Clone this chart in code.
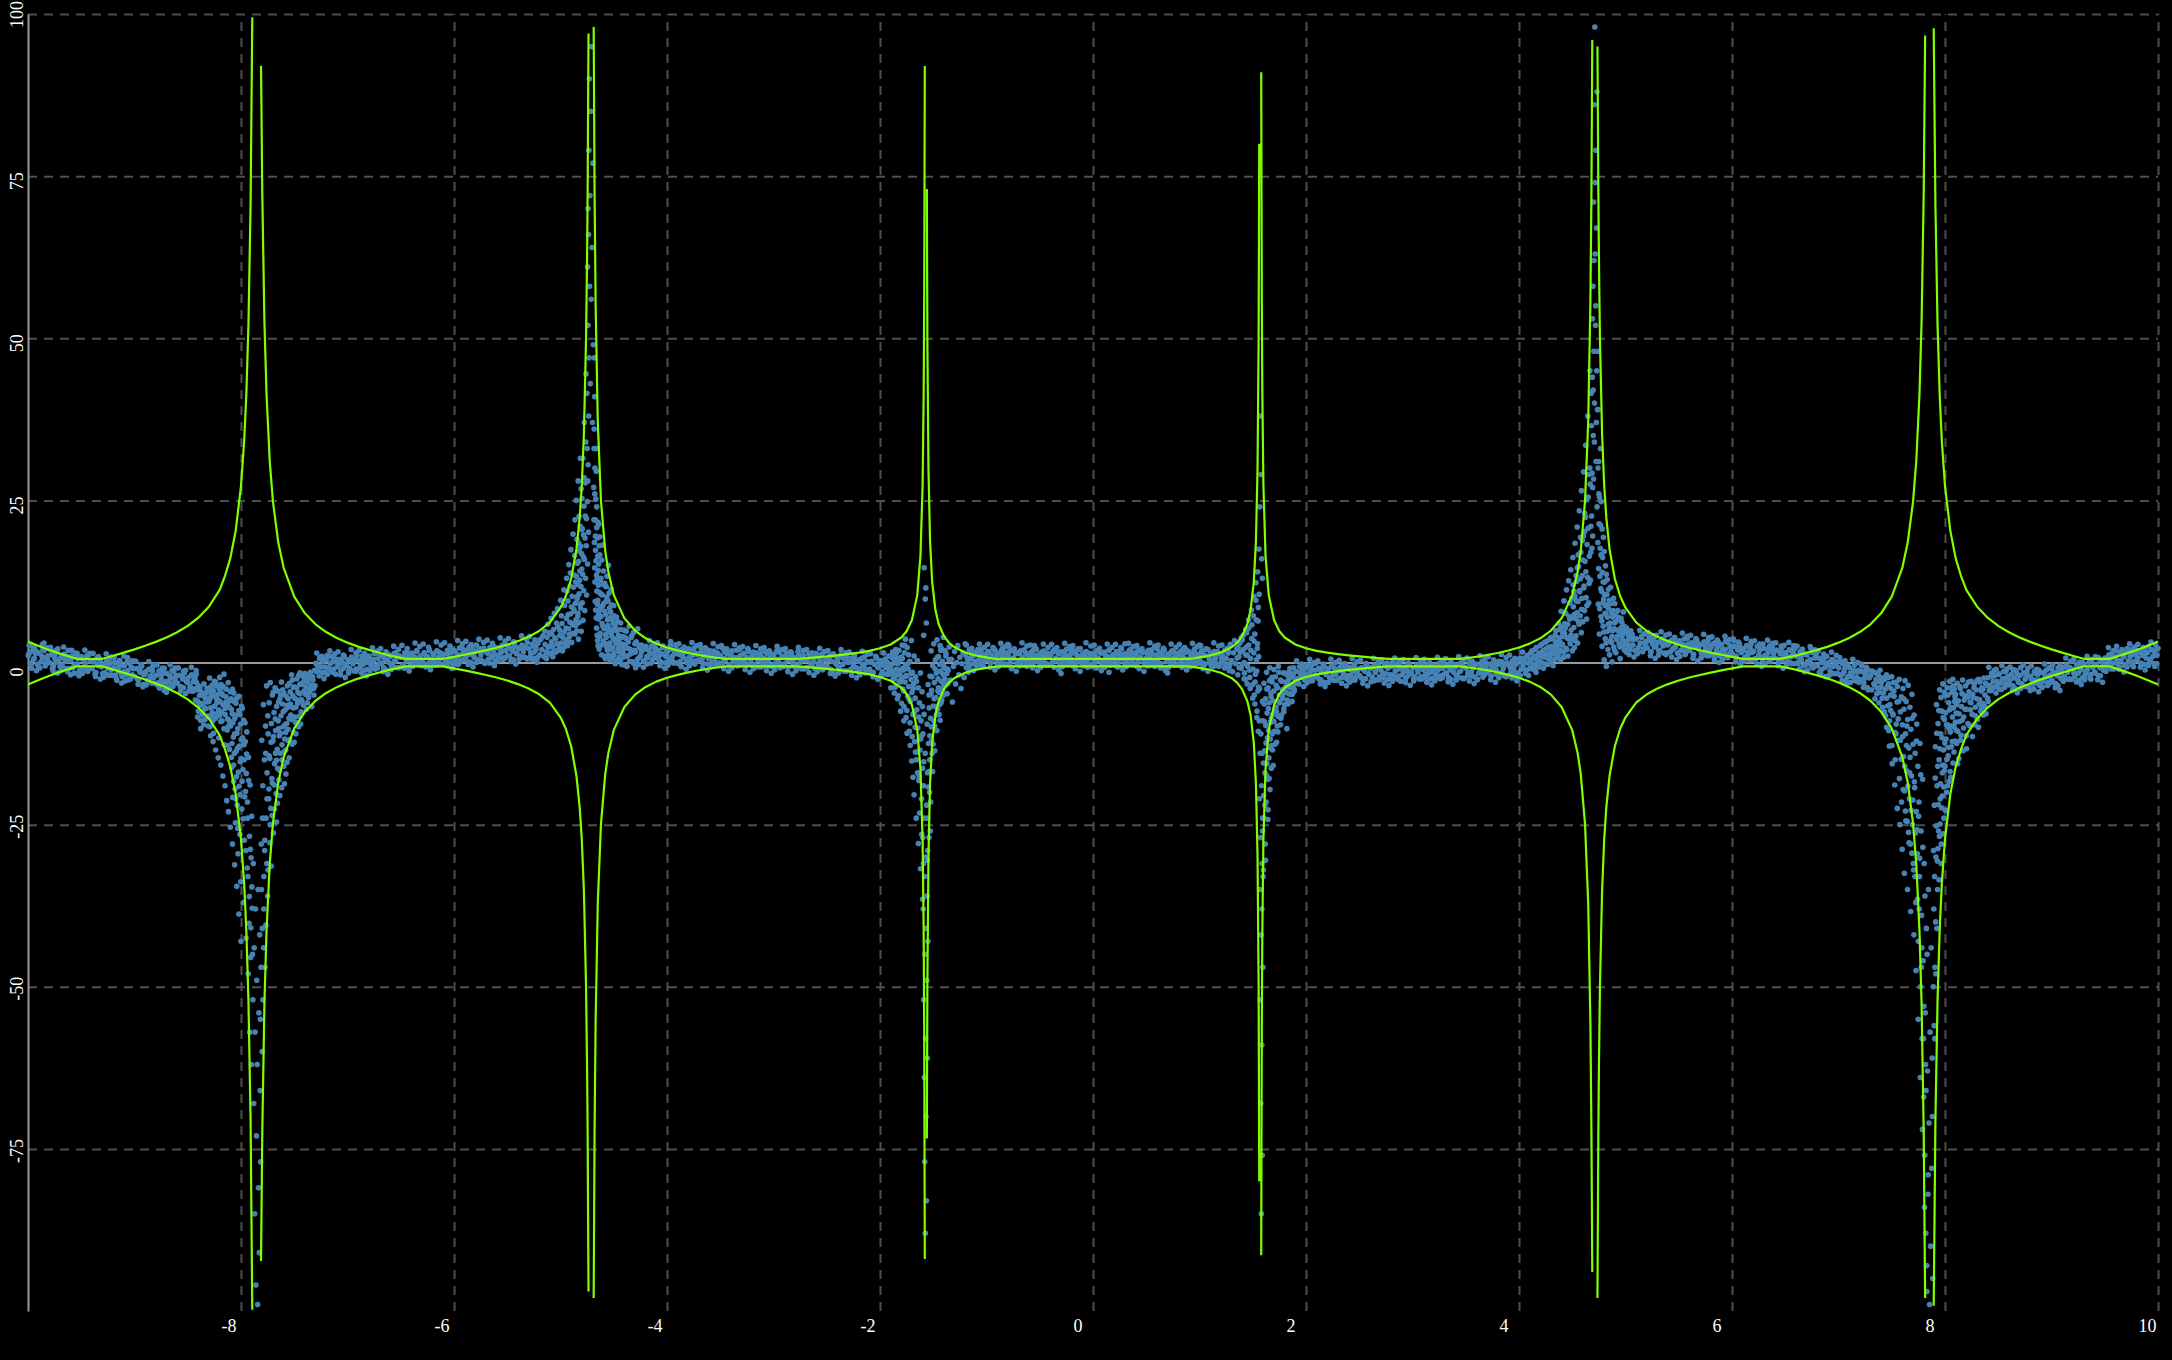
<!DOCTYPE html>
<html>
<head>
<meta charset="utf-8">
<script src="https://cdn.jsdelivr.net/npm/d3@7"></script>
<style>
    html, body { margin: 0; padding: 0; background: #000; }
    #chart { width: 2172px; height: 1360px; }
    .grid line { stroke: #4f4f4f; stroke-width: 2; stroke-dasharray: 9,7; }
    .grid .domain { display: none; }
    .tick-label { fill: #fff; font-family: "Liberation Serif", "Times New Roman", serif; font-size: 18px; }
</style>
</head>
<body>
<div id="chart"></div>
<script>

// tick labels
const xTicks = [-8, -6, -4, -2, 0, 2, 4, 6, 8, 10];
const yTicks = [-75, -50, -25, 0, 25, 50, 75, 100];

// green band: upper and lower curve, null = break at a pole
const curveX = [
    -10,-9.9,-9.8,-9.7,-9.6,-9.55,-9.54,-9.31,-9.3,-9.2,-9.1,-9.0,-8.9,-8.8,-8.7,-8.6,-8.5,-8.4,-8.3,-8.2,-8.15,-8.1,-8.05,-8.0,-7.97,-7.95,-7.93,-7.91,-7.894,
    -7.854,
    -7.812,-7.80,-7.78,-7.76,-7.73,-7.70,-7.65,-7.6,-7.5,-7.4,-7.3,-7.2,-7.1,-7.0,-6.9,-6.8,-6.7,-6.6,-6.5,-6.45,-6.105,-6.0,-5.9,-5.8,-5.7,-5.6,-5.5,-5.4,-5.3,-5.2,-5.1,-5.0,-4.95,-4.9,-4.85,-4.82,-4.80,-4.78,-4.76,-4.75,-4.745,-4.737,
    -4.712,
    -4.6885,-4.68,-4.67,-4.65,-4.62,-4.58,-4.55,-4.5,-4.4,-4.3,-4.2,-4.1,-4.0,-3.9,-3.8,-3.7,-3.6,-3.5,-3.45,-2.78,-2.7,-2.6,-2.5,-2.4,-2.3,-2.2,-2.1,-2.0,-1.9,-1.8,-1.75,-1.7,-1.65,-1.62,-1.60,-1.59,-1.585,-1.5793,
    -1.571,
    -1.5601,-1.555,-1.545,-1.53,-1.51,-1.48,-1.45,-1.4,-1.35,-1.3,-1.2,-1.1,-1.0,-0.95,-0.9,-0.88,0.88,0.9,0.95,1.0,1.1,1.2,1.3,1.35,1.4,1.45,1.48,1.51,1.53,1.545,1.555,1.561,
    1.571,
    1.5794,1.585,1.59,1.60,1.62,1.65,1.7,1.75,1.8,1.9,2.0,2.1,2.2,2.3,2.4,2.5,2.6,2.7,2.78,3.45,3.5,3.6,3.7,3.8,3.9,4.0,4.1,4.2,4.3,4.4,4.5,4.55,4.58,4.62,4.65,4.67,4.68,4.6882,
    4.712,
    4.7365,4.745,4.75,4.76,4.78,4.80,4.82,4.85,4.9,4.95,5.0,5.1,5.2,5.3,5.4,5.5,5.6,5.7,5.8,5.9,6.0,6.105,6.45,6.5,6.6,6.7,6.8,6.9,7.0,7.1,7.2,7.3,7.4,7.5,7.6,7.65,7.70,7.73,7.76,7.78,7.80,7.8135,
    7.854,
    7.894,7.91,7.93,7.95,7.97,8.0,8.05,8.1,8.15,8.2,8.3,8.4,8.5,8.6,8.7,8.8,8.9,9.0,9.1,9.2,9.3,9.31,9.54,9.55,9.6,9.7,9.8,9.9,10
];

const upperY = [
    3.24,2.55,1.93,1.37,0.85,0.60,0.55,0.55,0.58,1.05,1.53,2.03,2.58,3.18,3.85,4.66,5.64,6.91,8.65,11.19,13.37,16.1,20.3,27.2,34.2,41.3,52.1,70.6,99.5,
    null,
    92,72.2,52.5,41.2,31.0,24.8,18.5,14.64,10.15,7.58,5.89,4.69,3.79,3.06,2.45,1.94,1.50,1.06,0.71,0.55,0.55,0.87,1.19,1.52,1.89,2.28,2.74,3.29,3.97,4.86,6.19,8.45,10.22,12.91,17.51,22.3,27.3,35.3,50.0,63.1,72.7,97,
    null,
    98,72.2,55.1,37.2,24.9,17.2,13.9,10.43,6.81,4.92,3.73,2.91,2.31,1.85,1.47,1.15,0.89,0.66,0.55,0.55,0.64,0.78,0.93,1.10,1.29,1.51,1.80,2.19,2.78,3.86,4.83,6.54,10.39,16.45,27.4,41.4,55.8,92,
    null,
    73,49.2,29.9,18.7,12.4,8.13,5.97,4.06,3.01,2.34,1.54,1.08,0.78,0.66,0.57,0.55,0.55,0.57,0.66,0.78,1.08,1.54,2.34,3.01,4.06,5.97,8.13,12.4,18.7,29.9,49.2,80,
    null,
    91,55.8,41.4,27.4,16.45,10.39,6.54,4.83,3.86,2.78,2.19,1.80,1.51,1.29,1.10,0.93,0.78,0.64,0.55,0.55,0.66,0.89,1.15,1.47,1.85,2.31,2.91,3.73,4.92,6.81,10.43,13.9,17.2,24.9,37.2,55.1,72.2,96,
    null,
    95,72.7,63.1,50.0,35.3,27.3,22.3,17.51,12.91,10.22,8.45,6.19,4.86,3.97,3.29,2.74,2.28,1.89,1.52,1.19,0.87,0.55,0.55,0.71,1.06,1.50,1.94,2.45,3.06,3.79,4.69,5.89,7.58,10.15,14.64,18.5,24.8,31.0,41.2,52.5,72.2,96.7,
    null,
    97.8,70.6,52.1,41.3,34.2,27.2,20.3,16.1,13.37,11.19,8.65,6.91,5.64,4.66,3.85,3.18,2.58,2.03,1.53,1.05,0.58,0.55,0.55,0.60,0.85,1.37,1.93,2.55,3.24
];

const lowerY = [
    -3.4,-2.7,-2.05,-1.45,-0.9,-0.62,-0.58,-0.58,-0.62,-1.1,-1.58,-2.08,-2.63,-3.23,-3.9,-4.7,-5.68,-6.95,-8.7,-11.2,-13.4,-16.1,-20.3,-27.2,-34.2,-41.3,-52.1,-70.6,-99.8,
    null,
    -92.3,-72.2,-52.5,-41.2,-31.0,-24.8,-18.5,-14.64,-10.15,-7.6,-5.9,-4.7,-3.8,-3.08,-2.48,-1.98,-1.54,-1.1,-0.75,-0.6,-0.6,-0.9,-1.22,-1.55,-1.92,-2.32,-2.78,-3.33,-4.0,-4.9,-6.2,-8.45,-10.22,-12.91,-17.51,-22.3,-27.3,-35.3,-50.0,-63.1,-72.7,-97,
    null,
    -98,-72.2,-55.1,-37.2,-24.9,-17.2,-13.9,-10.43,-6.85,-4.95,-3.77,-2.95,-2.35,-1.9,-1.52,-1.2,-0.93,-0.7,-0.6,-0.6,-0.68,-0.82,-0.97,-1.14,-1.33,-1.55,-1.84,-2.23,-2.82,-3.9,-4.85,-6.56,-10.4,-16.45,-27.4,-41.4,-55.8,-92,
    null,
    -73.4,-49.2,-29.9,-18.7,-12.4,-8.15,-6.0,-4.1,-3.05,-2.38,-1.58,-1.12,-0.82,-0.7,-0.62,-0.6,-0.6,-0.62,-0.7,-0.82,-1.12,-1.58,-2.38,-3.05,-4.1,-6.0,-8.15,-12.4,-18.7,-29.9,-49.2,-80,
    null,
    -91.4,-55.8,-41.4,-27.4,-16.45,-10.4,-6.56,-4.85,-3.9,-2.82,-2.23,-1.84,-1.55,-1.33,-1.14,-0.97,-0.82,-0.68,-0.6,-0.6,-0.7,-0.93,-1.2,-1.52,-1.9,-2.35,-2.95,-3.77,-4.95,-6.85,-10.43,-13.9,-17.2,-24.9,-37.2,-55.1,-72.2,-94,
    null,
    -98,-72.7,-63.1,-50.0,-35.3,-27.3,-22.3,-17.51,-12.91,-10.22,-8.45,-6.2,-4.9,-4.0,-3.33,-2.78,-2.32,-1.92,-1.55,-1.22,-0.9,-0.6,-0.6,-0.75,-1.1,-1.54,-1.98,-2.48,-3.08,-3.8,-4.7,-5.9,-7.6,-10.15,-14.64,-18.5,-24.8,-31.0,-41.2,-52.5,-72.2,-98,
    null,
    -99.2,-70.6,-52.1,-41.3,-34.2,-27.2,-20.3,-16.1,-13.4,-11.2,-8.7,-6.95,-5.68,-4.7,-3.9,-3.23,-2.63,-2.08,-1.58,-1.1,-0.62,-0.58,-0.58,-0.62,-0.9,-1.45,-2.05,-2.7,-3.4
];

// blue observations [x, y], grouped by stretch of the x axis
// -10 to -8.42: band sliding down
const dotsA = [
    [-9.99,1.4],[-9.97,-0.3],[-9.95,2.4],[-9.94,0.6],[-9.92,1.7],[-9.90,-0.7],[-9.87,1.0],[-9.86,2.0],[-9.83,-0.2],[-9.82,0.5],
    [-9.79,2.0],[-9.77,-0.9],[-9.75,1.2],[-9.74,0.0],[-9.72,2.1],[-9.70,-0.6],[-9.67,0.7],[-9.66,1.3],[-9.63,-1.4],[-9.62,0.3],
    [-9.59,1.0],[-9.57,-0.6],[-9.55,1.4],[-9.54,-0.3],[-9.52,-1.3],[-9.50,0.9],[-9.47,0.2],[-9.46,-1.0],[-9.43,1.2],[-9.42,-0.9],
    [-9.39,0.1],[-9.37,-1.8],[-9.35,0.7],[-9.34,-0.5],[-9.32,0.1],[-9.30,-1.7],[-9.27,-0.2],[-9.26,-1.9],[-9.23,0.7],[-9.22,-1.1],
    [-9.19,0.0],[-9.17,-2.5],[-9.15,-0.8],[-9.14,0.2],[-9.12,-2.0],[-9.10,-1.4],[-9.07,0.1],[-9.06,-2.7],[-9.03,-0.7],[-9.02,-1.9],
    [-8.99,0.2],[-8.97,-2.6],[-8.95,-1.3],[-8.94,-0.7],[-8.92,-3.4],[-8.90,-1.8],[-8.87,-1.1],[-8.86,-2.6],[-8.83,-0.7],[-8.82,-2.3],
    [-8.79,-3.4],[-8.77,-1.3],[-8.75,-1.9],[-8.74,-3.1],[-8.72,-0.9],[-8.70,-2.9],[-8.67,-2.0],[-8.66,-3.8],[-8.63,-1.4],[-8.62,-2.6],
    [-8.59,-2.0],[-8.57,-3.7],[-8.55,-2.2],[-8.54,-3.9],[-8.52,-1.2],[-8.50,-3.1],[-8.47,-2.0],[-8.46,-4.4],[-8.43,-2.8],[-8.42,-1.8],
    [-9.85,3.0],[-9.6,-1.9],[-9.1,1.0],[-8.7,-4.6],
    [-9.997,1.07],[-9.979,-0.08],[-9.962,1.77],[-9.948,0.52],[-9.931,1.37],[-9.913,-0.28],
    [-9.897,1.45],[-9.879,0.1],[-9.862,0.75],[-9.848,1.85],[-9.831,-0.05],[-9.813,1.05],
    [-9.797,-0.02],[-9.779,1.18],[-9.762,-0.57],[-9.748,0.63],[-9.731,1.58],[-9.713,0.23],
    [-9.697,0.78],[-9.679,-0.52],[-9.662,1.23],[-9.648,0.18],[-9.631,0.93],[-9.613,-0.92],
    [-9.597,0.3],[-9.579,-0.85],[-9.562,1.0],[-9.548,-0.25],[-9.531,0.6],[-9.513,-1.05],
    [-9.497,0.62],[-9.479,-0.73],[-9.462,-0.08],[-9.448,1.02],[-9.431,-0.88],[-9.413,0.22],
    [-9.397,-0.95],[-9.379,0.25],[-9.362,-1.5],[-9.348,-0.3],[-9.331,0.65],[-9.313,-0.7],
    [-9.297,-0.25],[-9.279,-1.55],[-9.262,0.2],[-9.248,-0.85],[-9.231,-0.1],[-9.213,-1.95],
    [-9.197,-0.8],[-9.179,-1.95],[-9.162,-0.1],[-9.148,-1.35],[-9.131,-0.5],[-9.113,-2.15],
    [-9.097,-0.55],[-9.079,-1.9],[-9.062,-1.25],[-9.048,-0.15],[-9.031,-2.05],[-9.013,-0.95],
    [-8.997,-2.15],[-8.979,-0.95],[-8.962,-2.7],[-8.948,-1.5],[-8.931,-0.55],[-8.913,-1.9],
    [-8.897,-1.45],[-8.879,-2.75],[-8.862,-1.0],[-8.848,-2.05],[-8.831,-1.3],[-8.813,-3.15],
    [-8.797,-1.97],[-8.779,-3.12],[-8.762,-1.27],[-8.748,-2.52],[-8.731,-1.67],[-8.713,-3.32],
    [-8.697,-1.65],[-8.679,-3.0],[-8.662,-2.35],[-8.648,-1.25],[-8.631,-3.15],[-8.613,-2.05],
    [-8.597,-3.18],[-8.579,-1.98],[-8.562,-3.73],[-8.548,-2.53],[-8.531,-1.58],[-8.513,-2.93],
    [-8.497,-2.35],[-8.479,-3.65],[-8.462,-1.9],[-8.448,-2.95],[-8.431,-2.2],[-8.413,-4.05]
];
const edgeA = [
    [-9.989,2.67],[-9.966,-0.88],[-9.939,2.17],[-9.921,-1.28],[-9.889,-0.85],[-9.866,2.75],[-9.839,-0.55],[-9.821,2.25],
    [-9.789,2.33],[-9.766,-1.22],[-9.739,1.83],[-9.721,-1.62],[-9.689,-1.22],[-9.666,2.38],[-9.639,-0.92],[-9.621,1.88],
    [-9.589,1.9],[-9.566,-1.65],[-9.539,1.4],[-9.521,-2.05],[-9.489,-1.68],[-9.466,1.92],[-9.439,-1.38],[-9.421,1.42],
    [-9.389,1.4],[-9.366,-2.15],[-9.339,0.9],[-9.321,-2.55],[-9.289,-2.25],[-9.266,1.35],[-9.239,-1.95],[-9.221,0.85],
    [-9.189,0.8],[-9.166,-2.75],[-9.139,0.3],[-9.121,-3.15],[-9.089,-2.85],[-9.066,0.75],[-9.039,-2.55],[-9.021,0.25],
    [-8.989,0.2],[-8.966,-3.35],[-8.939,-0.3],[-8.921,-3.75],[-8.889,-3.45],[-8.866,0.15],[-8.839,-3.15],[-8.821,-0.35],
    [-8.789,-0.37],[-8.766,-3.92],[-8.739,-0.87],[-8.721,-4.32],[-8.689,-3.95],[-8.666,-0.35],[-8.639,-3.65],[-8.621,-0.85],
    [-8.589,-0.83],[-8.566,-4.38],[-8.539,-1.33],[-8.521,-4.78],[-8.489,-4.35],[-8.466,-0.75],[-8.439,-4.05],[-8.421,-1.25]
];
// -8.45 to -7.89: drop into the spike at -5pi/2
const dotsB = [
    [-8.41,-4.2],[-8.40,-7.5],[-8.39,-5.1],[-8.38,-8.9],[-8.37,-4.6],[-8.36,-6.3],[-8.35,-9.6],[-8.34,-5.4],[-8.33,-7.1],[-8.32,-4.0],
    [-8.31,-8.2],[-8.30,-6.0],[-8.29,-9.9],[-8.28,-5.0],[-8.27,-7.7],[-8.26,-4.4],[-8.25,-6.8],[-8.24,-8.6],[-8.23,-3.6],[-8.22,-5.7],
    [-8.21,-7.3],[-8.20,-2.3],[-8.19,-9.1],[-8.18,-4.8],[-8.17,-6.5],[-8.16,-1.8],[-8.15,-8.0],[-8.14,-5.3],[-8.13,-10.4],[-8.12,-3.1],
    [-8.11,-6.9],[-8.10,-4.5],[-8.405,-6.0],[-8.385,-3.9],[-8.365,-8.0],[-8.345,-6.9],[-8.325,-5.6],[-8.305,-4.3],[-8.285,-7.0],[-8.265,-9.0],
    [-8.245,-5.2],[-8.225,-6.2],[-8.205,-4.1],[-8.185,-7.6],[-8.165,-3.7],[-8.145,-6.4],[-8.125,-8.7],[-8.105,-5.9],
    [-8.448,-4.4],[-8.438,-2.6],[-8.428,-5.8],[-8.418,-3.1],[-8.408,-8.4],[-8.398,-3.6],[-8.388,-6.6],[-8.378,-10.2],[-8.368,-5.0],[-8.358,-7.6],
    [-8.348,-3.3],[-8.338,-8.8],[-8.328,-4.7],[-8.318,-6.1],[-8.308,-9.8],[-8.298,-3.9],[-8.288,-5.5],[-8.278,-8.3],[-8.268,-4.2],[-8.258,-10.9],
    [-8.248,-6.7],[-8.238,-3.0],[-8.228,-7.9],[-8.218,-4.9],[-8.208,-11.6],[-8.198,-6.0],[-8.188,-3.4],[-8.178,-9.0],[-8.168,-5.1],[-8.158,-12.7],
    [-8.148,-7.1],[-8.138,-4.1],[-8.128,-6.5],[-8.118,-9.8],[-8.108,-13.4],
    [-8.295,-2.4],[-8.285,-11.3],[-8.272,-3.5],[-8.262,-12.2],[-8.25,-2.9],[-8.238,-13.5],[-8.226,-5.8],[-8.214,-14.7],[-8.202,-8.2],[-8.19,-15.8],
    [-8.18,-3.9],[-8.17,-17.5],[-8.16,-10.2],[-8.15,-19.0],[-8.142,-6.1],[-8.134,-21.3],[-8.126,-12.8],[-8.118,-23.0],[-8.11,-9.0],[-8.1,-25.4]
];
const dotsC = [
    [-8.09,-7.2],[-8.085,-12.5],[-8.08,-4.1],[-8.075,-9.3],[-8.07,-15.8],[-8.065,-6.0],[-8.06,-11.0],[-8.055,-19.5],[-8.05,-8.1],[-8.045,-13.7],
    [-8.04,-5.5],[-8.035,-22.0],[-8.03,-10.2],[-8.025,-16.9],[-8.02,-7.4],[-8.015,-12.9],[-8.01,-26.5],[-8.005,-9.5],[-8.0,-14.8],[-7.995,-6.7],
    [-7.99,-18.3],[-7.985,-11.6],[-7.98,-24.1],[-7.975,-8.9],[-7.97,-15.0],[-7.965,-20.7],[-7.96,-12.2],[-7.955,-29.0],[-7.95,-17.1],[-7.945,-10.7],
    [-8.098,-9.8],[-8.092,-5.6],[-8.088,-16.2],[-8.082,-7.9],[-8.078,-20.8],[-8.072,-11.5],[-8.068,-4.7],[-8.062,-14.0],[-8.058,-8.6],[-8.052,-24.7],
    [-8.048,-6.3],[-8.042,-17.6],[-8.038,-10.9],[-8.032,-13.2],[-8.028,-29.5],[-8.022,-5.2],[-8.018,-19.1],[-8.012,-8.0],[-8.008,-15.3],[-8.002,-33.8],
    [-7.998,-11.9],[-7.992,-22.6],[-7.988,-7.1],[-7.982,-16.5],[-7.978,-37.0],[-7.972,-12.7],[-7.968,-27.4],[-7.962,-9.3],[-7.958,-19.9],[-7.952,-42.5],
    [-7.948,-14.1],[-7.942,-31.7],[-7.938,-24.0],[-7.932,-48.0],[-7.928,-18.2],[-7.922,-36.1],[-7.918,-57.0],[-7.912,-28.8],[-7.908,-40.9],[-7.902,-62.0],
    [-7.898,-34.6],[-7.892,-45.0],
    [-8.09,-14.6],[-8.08,-28.0],[-8.07,-18.3],[-8.06,-31.2],[-8.05,-21.0],[-8.04,-34.5],[-8.03,-25.6],[-8.02,-38.8],[-8.01,-20.4],[-8.0,-43.0]
];
const dotsD = [
    [-7.94,-21.5],[-7.935,-33.0],[-7.93,-14.6],[-7.925,-40.2],[-7.92,-26.8],[-7.915,-18.9],[-7.91,-45.5],[-7.905,-30.1],[-7.90,-23.7],[-7.895,-37.9],
    [-7.888,-52],[-7.884,-31],[-7.880,-68],[-7.876,-44],[-7.872,-85],[-7.868,-57],[-7.864,-38],[-7.860,-96],[-7.856,-73],[-7.852,-49],
    [-7.848,-62],[-7.844,-99],[-7.840,-35],[-7.836,-81],[-7.832,-54],[-7.828,-91],[-7.824,-42],[-7.820,-66],[-7.816,-77],[-7.812,-47]
];
// -7.82 to -7.3: climbing out of the spike
const dotsE = [
    [-7.81,-28],[-7.805,-12],[-7.80,-41],[-7.795,-19],[-7.79,-6.5],[-7.785,-33],[-7.78,-15],[-7.775,-47],[-7.77,-9.8],[-7.765,-24],
    [-7.76,-3.6],[-7.755,-17],[-7.75,-36],[-7.745,-11],[-7.74,-21],
    [-7.818,-55],[-7.808,-35],[-7.798,-24],[-7.788,-44],[-7.778,-29],[-7.768,-14],[-7.758,-31],[-7.748,-8.2],
    [-7.802,-60],[-7.794,-52],[-7.786,-38],[-7.776,-27.4],[-7.766,-40.5],[-7.756,-21.0],[-7.746,-32.0]
];
const dotsF = [
    [-7.735,-6.2],[-7.73,-14.8],[-7.725,-3.1],[-7.72,-22.5],[-7.715,-9.4],[-7.71,-17.9],[-7.705,-5.0],[-7.70,-12.1],[-7.695,-26.3],[-7.69,-7.7],
    [-7.685,-15.6],[-7.68,-3.9],[-7.675,-10.5],[-7.67,-20.2],[-7.665,-6.8],[-7.66,-13.4],[-7.655,-4.4],[-7.65,-9.0],[-7.645,-18.1],[-7.64,-11.3],
    [-7.635,-5.6],[-7.63,-14.0],[-7.625,-8.2],[-7.62,-3.0],[-7.615,-12.7],[-7.61,-6.4],[-7.605,-9.9],[-7.60,-16.0],[-7.595,-4.8],[-7.59,-11.8],
    [-7.585,-7.3],[-7.58,-13.5],[-7.575,-5.2],[-7.57,-9.4],[-7.565,-3.6],[-7.56,-12.0],[-7.555,-6.9],[-7.55,-8.6],
    [-7.738,-19.5],[-7.728,-27.8],[-7.718,-12.3],[-7.708,-23.6],[-7.698,-4.6],[-7.688,-18.9],[-7.678,-8.7],[-7.668,-15.1],[-7.658,-21.7],[-7.648,-6.1],
    [-7.638,-16.6],[-7.628,-10.9],[-7.618,-19.3],[-7.608,-4.2],[-7.598,-13.8],[-7.588,-9.6],[-7.578,-17.2],[-7.568,-6.6],[-7.558,-10.3],[-7.548,-14.7],
    [-7.736,-14.4],[-7.726,-25.0],[-7.716,-31.4],[-7.706,-18.6],[-7.696,-11.4],[-7.686,-22.6],[-7.676,-14.0],[-7.666,-24.6],[-7.656,-16.3],[-7.646,-10.2],
    [-7.636,-20.5],[-7.626,-5.0],[-7.616,-15.0],[-7.604,-7.6],[-7.592,-18.7],[-7.58,-10.8],[-7.568,-15.4],[-7.556,-5.6]
];
const dotsG = [
    [-7.545,-3.2],[-7.535,-6.4],[-7.525,-1.9],[-7.515,-5.1],[-7.505,-10.8],[-7.495,-3.8],[-7.485,-6.9],[-7.475,-2.5],[-7.465,-4.6],[-7.455,-8.3],
    [-7.445,-1.6],[-7.435,-5.7],[-7.425,-3.4],[-7.415,-6.6],[-7.405,-2.2],[-7.395,-4.9],[-7.385,-7.2],[-7.375,-3.0],[-7.365,-5.4],[-7.355,-1.8],
    [-7.345,-4.2],[-7.335,-6.8],[-7.325,-2.7],[-7.315,-5.0],[-7.305,-3.6],[-7.295,-1.4],[-7.50,-12.3],[-7.44,-9.5],[-7.41,-2.9],[-7.36,-4.1],
    [-7.538,-4.5],[-7.528,-8.8],[-7.518,-2.7],[-7.508,-7.0],[-7.498,-5.5],[-7.488,-9.2],[-7.478,-3.9],[-7.468,-6.3],[-7.458,-2.0],[-7.448,-4.8],
    [-7.438,-3.3],[-7.428,-5.9],[-7.418,-2.1],[-7.408,-4.4],[-7.398,-1.7],[-7.388,-3.8],[-7.378,-6.2],[-7.368,-2.4],[-7.358,-4.6],[-7.348,-1.5],
    [-7.338,-3.5],[-7.328,-2.2],[-7.318,-4.0],[-7.308,-1.2],
    [-7.544,-11.9],[-7.532,-8.1],[-7.52,-12.6],[-7.508,-3.8],[-7.496,-8.4],[-7.484,-11.0],[-7.472,-5.8],[-7.46,-9.9],[-7.448,-3.4],[-7.436,-7.6]
];
// -7.3 to -5.2: band climbing
const dotsH = [
    [-7.28,-0.5],[-7.26,0.8],[-7.24,-1.6],[-7.23,0.3],[-7.21,-0.7],[-7.19,1.1],[-7.16,-1.2],[-7.15,0.0],[-7.12,0.6],[-7.11,-1.8],
    [-7.08,-0.3],[-7.06,0.4],[-7.04,-0.9],[-7.03,0.9],[-7.01,-0.4],[-6.99,-1.3],[-6.96,0.6],[-6.95,0.0],[-6.92,-1.0],[-6.91,1.1],
    [-6.88,-0.5],[-6.86,0.4],[-6.84,-1.2],[-6.83,0.9],[-6.81,0.0],[-6.79,0.55],[-6.76,-0.8],[-6.75,0.5],[-6.72,-0.9],[-6.71,1.4],
    [-6.68,-0.1],[-6.66,0.9],[-6.64,-1.1],[-6.63,0.3],[-6.61,1.2],[-6.59,-0.4],[-6.56,0.2],[-6.55,1.5],[-6.52,-0.8],[-6.51,1.0],
    [-7.297,-0.13],[-7.279,-1.28],[-7.262,0.57],[-7.248,-0.68],[-7.231,0.17],[-7.213,-1.48],
    [-7.197,0.5],[-7.179,-0.85],[-7.162,-0.2],[-7.148,0.9],[-7.131,-1.0],[-7.113,0.1],
    [-7.097,-0.7],[-7.079,0.5],[-7.062,-1.25],[-7.048,-0.05],[-7.031,0.9],[-7.013,-0.45],
    [-6.997,0.4],[-6.979,-0.9],[-6.962,0.85],[-6.948,-0.2],[-6.931,0.55],[-6.913,-1.3],
    [-6.897,0.3],[-6.879,-0.85],[-6.862,1.0],[-6.848,-0.25],[-6.831,0.6],[-6.813,-1.05],
    [-6.797,0.98],[-6.779,-0.37],[-6.762,0.28],[-6.748,1.38],[-6.731,-0.52],[-6.713,0.58],
    [-6.697,-0.2],[-6.679,1.0],[-6.662,-0.75],[-6.648,0.45],[-6.631,1.4],[-6.613,0.05],
    [-6.597,0.92],[-6.579,-0.38],[-6.562,1.37],[-6.548,0.32],[-6.531,1.07],[-6.513,-0.78]
];
const dotsI = [
    [-6.48,-0.4],[-6.46,0.8],[-6.44,1.4],[-6.43,-0.9],[-6.41,0.55],[-6.39,1.2],[-6.36,0.0],[-6.35,1.7],[-6.32,0.4],[-6.31,-0.5],
    [-6.28,1.5],[-6.26,0.9],[-6.24,-0.1],[-6.23,1.9],[-6.21,0.3],[-6.19,1.2],[-6.16,-0.4],[-6.15,1.7],[-6.12,0.7],[-6.11,1.3],
    [-6.08,0.0],[-6.06,1.4],[-6.04,0.0],[-6.03,2.3],[-6.01,0.7],[-5.99,1.7],[-5.96,-0.3],[-5.95,1.15],[-5.92,2.1],[-5.91,0.4],
    [-5.88,1.05],[-5.86,2.35],[-5.84,0.0],[-5.83,1.8],[-5.81,0.8],[-5.79,2.7],[-5.76,0.35],[-5.75,1.6],[-5.72,2.2],[-5.71,-0.15],
    [-5.68,1.35],[-5.66,2.0],[-5.64,0.8],[-5.63,2.5],[-5.61,1.2],[-5.59,0.3],[-5.56,2.3],[-5.55,1.7],[-5.52,0.7],[-5.51,2.7],
    [-5.48,1.05],[-5.46,2.0],[-5.44,0.4],[-5.43,2.5],[-5.41,1.5],[-5.39,2.15],[-5.36,0.8],[-5.35,2.1],[-5.32,0.7],[-5.31,3.05],
    [-5.28,1.5],[-5.26,2.55],[-5.24,0.6],[-5.23,2.0],[-5.21,3.0],
    [-6.497,0.8],[-6.479,-0.35],[-6.462,1.5],[-6.448,0.25],[-6.431,1.1],[-6.413,-0.55],
    [-6.397,1.45],[-6.379,0.1],[-6.362,0.75],[-6.348,1.85],[-6.331,-0.05],[-6.313,1.05],
    [-6.297,0.25],[-6.279,1.45],[-6.262,-0.3],[-6.248,0.9],[-6.231,1.85],[-6.213,0.5],
    [-6.197,1.35],[-6.179,0.05],[-6.162,1.8],[-6.148,0.75],[-6.131,1.5],[-6.113,-0.35],
    [-6.097,1.2],[-6.079,0.05],[-6.062,1.9],[-6.048,0.65],[-6.031,1.5],[-6.013,-0.15],
    [-5.997,1.85],[-5.979,0.5],[-5.962,1.15],[-5.948,2.25],[-5.931,0.35],[-5.913,1.45],
    [-5.897,0.65],[-5.879,1.85],[-5.862,0.1],[-5.848,1.3],[-5.831,2.25],[-5.813,0.9],
    [-5.797,1.75],[-5.779,0.45],[-5.762,2.2],[-5.748,1.15],[-5.731,1.9],[-5.713,0.05],
    [-5.697,1.6],[-5.679,0.45],[-5.662,2.3],[-5.648,1.05],[-5.631,1.9],[-5.613,0.25],
    [-5.597,2.25],[-5.579,0.9],[-5.562,1.55],[-5.548,2.65],[-5.531,0.75],[-5.513,1.85],
    [-5.497,1.1],[-5.479,2.3],[-5.462,0.55],[-5.448,1.75],[-5.431,2.7],[-5.413,1.35],
    [-5.397,2.25],[-5.379,0.95],[-5.362,2.7],[-5.348,1.65],[-5.331,2.4],[-5.313,0.55],
    [-5.297,2.15],[-5.279,1.0],[-5.262,2.85],[-5.248,1.6],[-5.231,2.45],[-5.213,0.8]
];
const edgeHI = [
    [-7.289,1.47],[-7.266,-2.08],[-7.239,0.97],[-7.221,-2.48],[-7.189,-1.8],[-7.166,1.8],[-7.139,-1.5],[-7.121,1.3],
    [-7.089,1.65],[-7.066,-1.9],[-7.039,1.15],[-7.021,-2.3],[-6.989,-1.6],[-6.966,2.0],[-6.939,-1.3],[-6.921,1.5],
    [-6.889,1.9],[-6.866,-1.65],[-6.839,1.4],[-6.821,-2.05],[-6.789,-1.32],[-6.766,2.28],[-6.739,-1.02],[-6.721,1.78],
    [-6.689,2.15],[-6.666,-1.4],[-6.639,1.65],[-6.621,-1.8],[-6.589,-1.08],[-6.566,2.52],[-6.539,-0.78],[-6.521,2.02],
    [-6.489,2.65],[-6.466,-0.9],[-6.439,2.15],[-6.421,-1.3],[-6.389,-0.6],[-6.366,3.0],[-6.339,-0.3],[-6.321,2.5],
    [-6.289,2.85],[-6.266,-0.7],[-6.239,2.35],[-6.221,-1.1],[-6.189,-0.4],[-6.166,3.2],[-6.139,-0.1],[-6.121,2.7],
    [-6.089,3.05],[-6.066,-0.5],[-6.039,2.55],[-6.021,-0.9],[-5.989,-0.2],[-5.966,3.4],[-5.939,0.1],[-5.921,2.9],
    [-5.889,3.25],[-5.866,-0.3],[-5.839,2.75],[-5.821,-0.7],[-5.789,0.0],[-5.766,3.6],[-5.739,0.3],[-5.721,3.1],
    [-5.689,3.45],[-5.666,-0.1],[-5.639,2.95],[-5.621,-0.5],[-5.589,0.2],[-5.566,3.8],[-5.539,0.5],[-5.521,3.3],
    [-5.489,3.7],[-5.466,0.15],[-5.439,3.2],[-5.421,-0.25],[-5.389,0.5],[-5.366,4.1],[-5.339,0.8],[-5.321,3.6],
    [-5.289,4.0],[-5.266,0.45],[-5.239,3.5],[-5.221,0.05]
];
const dotsJ = [
    [-5.195,1.2],[-5.185,3.6],[-5.175,2.0],[-5.165,4.1],[-5.155,0.9],[-5.145,2.8],[-5.135,1.6],[-5.125,3.9],[-5.115,2.3],[-5.105,4.6],
    [-5.095,1.4],[-5.085,3.2],[-5.075,2.5],[-5.065,5.1],[-5.055,1.8],[-5.045,3.7],[-5.035,2.9],[-5.025,5.5],[-5.015,1.9],[-5.005,4.2],
    [-4.995,3.0],[-4.985,6.0],[-4.975,2.2],[-4.965,4.7],[-4.955,3.5],[-4.945,6.8],[-4.935,2.6],[-4.925,5.2],[-4.915,4.0],[-4.905,7.5],
    [-4.895,3.1],[-4.885,5.8],[-4.875,8.2],[-4.865,4.4],[-4.855,6.6],[-4.93,9.5],[-4.91,11.8],[-4.89,10.2],[-4.87,13.5],
    [-5.098,2.5],[-5.082,4.4],[-5.068,1.7],[-5.052,3.8],[-5.038,6.1],[-5.022,2.9],[-5.008,5.0],[-4.992,7.2],[-4.978,3.9],[-4.962,8.8],
    [-4.948,5.3],[-4.938,11.0],[-4.928,7.4],[-4.918,4.3],[-4.908,13.8],[-4.898,8.6],[-4.888,6.0],[-4.878,11.6],[-4.868,16.5],[-4.862,9.1],[-4.856,5.7],
    [-5.148,4.8],[-5.132,0.6],[-5.118,5.9],[-5.102,1.3],[-5.088,6.8],[-5.072,0.9],[-5.058,7.6],[-5.042,1.6],[-5.028,8.3],[-5.012,2.2],
    [-4.998,9.6],[-4.982,1.8],[-4.968,11.2],[-4.952,2.9],[-4.942,13.0],[-4.932,3.4],[-4.922,15.1],[-4.912,6.2],[-4.902,17.4],[-4.892,4.5],
    [-4.882,19.8],[-4.872,7.9],[-4.864,22.0],[-4.858,12.4]
];
// spike at -3pi/2
const dotsK = [
    [-4.848,4.9],[-4.845,9.8],[-4.842,15.3],[-4.838,7.1],[-4.835,12.0],[-4.832,3.6],[-4.828,18.4],[-4.825,10.6],[-4.822,6.2],[-4.818,14.1],
    [-4.815,21.0],[-4.812,8.4],[-4.808,11.7],[-4.805,4.8],[-4.802,16.8],[-4.798,25.3],[-4.795,9.2],[-4.792,13.6],[-4.788,6.5],[-4.785,19.7],
    [-4.782,11.1],[-4.778,28.5],[-4.775,15.9],[-4.772,8.0],[-4.768,22.6],[-4.765,13.0],[-4.762,34.0],[-4.758,18.0],[-4.755,10.4],[-4.752,41.5],
    [-4.748,24.8],[-4.745,15.2],[-4.742,52.0],[-4.740,30.5],[-4.738,20.1],[-4.7365,66],[-4.735,38],[-4.733,79],[-4.731,47],[-4.729,90],
    [-4.727,58],[-4.724,72],[-4.72,43],[-4.716,85],[-4.712,56],[-4.708,95],[-4.704,64],[-4.70,37],[-4.696,77],[-4.692,49],
    [-4.85,13.3],[-4.846,19.0],[-4.84,10.2],[-4.836,7.6],[-4.83,15.6],[-4.826,22.5],[-4.82,12.7],[-4.816,9.0],[-4.81,17.9],[-4.806,26.8],
    [-4.80,14.4],[-4.796,20.6],[-4.79,31.5],[-4.786,16.3],[-4.78,24.1],[-4.776,37.0],[-4.77,19.2],[-4.766,27.7],[-4.76,44.5],[-4.756,22.2],
    [-4.75,33.0],[-4.746,61.0],[-4.744,28.0],[-4.741,70.0],
    [-4.852,25.0],[-4.844,6.0],[-4.834,28.0],[-4.824,17.2],[-4.814,31.5],[-4.804,20.5]
];
const dotsL = [
    [-4.688,27],[-4.685,33],[-4.682,18.5],[-4.679,41],[-4.676,12.4],[-4.673,22.0],[-4.670,8.1],[-4.667,15.7],[-4.664,29.5],[-4.661,5.3],
    [-4.658,11.0],[-4.655,19.2],[-4.652,3.4],[-4.649,9.6],[-4.646,14.2],[-4.643,6.7],[-4.640,21.3],[-4.637,2.1],[-4.634,10.8],[-4.631,16.6],
    [-4.628,4.5],[-4.625,8.3],[-4.62,13.0],[-4.615,1.2],[-4.61,6.0],[-4.605,18.1],[-4.60,3.3],[-4.595,9.1],[-4.59,5.2],[-4.585,12.2],
    [-4.58,0.6],[-4.575,7.4],[-4.57,3.9],[-4.565,10.1],[-4.56,1.9],[-4.555,5.7],[-4.55,15.0],[-4.545,2.8],[-4.54,8.4],[-4.535,0.3],
    [-4.53,4.6],[-4.525,11.3],[-4.52,2.0],[-4.515,6.6],[-4.51,0.9],[-4.505,3.7],[-4.50,8.8],[-4.495,1.5],[-4.49,5.3],[-4.485,-0.2],
    [-4.48,3.1],[-4.475,7.0],
    [-4.686,22],[-4.683,47],[-4.68,14.6],[-4.677,30],[-4.674,9.4],[-4.671,17.3],[-4.668,25.2],[-4.665,6.9],[-4.662,13.5],[-4.659,20.8],
    [-4.656,4.2],[-4.653,9.0],[-4.65,16.4],[-4.647,2.6],[-4.644,11.9],[-4.641,7.5],[-4.638,18.0],[-4.632,4.0],[-4.626,12.6],[-4.62,7.1],
    [-4.614,2.7],[-4.608,10.4],[-4.602,5.6],[-4.596,14.1],[-4.59,1.0],[-4.584,7.9],[-4.578,4.3],[-4.572,11.7],[-4.566,2.4],[-4.56,6.6],
    [-4.554,9.5],[-4.548,1.1],[-4.542,5.2],[-4.536,3.0],[-4.53,7.8],[-4.524,0.6],[-4.518,4.1],[-4.512,2.3],[-4.506,6.0],[-4.5,1.2],
    [-4.49,3.6],[-4.48,0.2],[-4.47,4.9],[-4.46,2.1],[-4.45,0.8],
    [-4.684,36],[-4.678,26],[-4.672,19.5],[-4.666,33],[-4.66,24.0],[-4.654,13.0],[-4.648,21.6],[-4.642,15.2],[-4.636,8.0],[-4.63,19.4],
    [-4.622,10.6],[-4.612,15.8],[-4.604,8.7],[-4.594,12.0],[-4.584,3.0],[-4.574,9.4],[-4.564,13.3],[-4.554,5.0],[-4.544,10.7],[-4.534,6.9],
    [-4.522,8.9],[-4.51,4.9],[-4.498,7.2],[-4.486,5.6],[-4.474,2.9]
];
const dotsM = [
    [-4.465,0.4],[-4.455,4.2],[-4.445,1.6],[-4.435,6.1],[-4.425,-0.3],[-4.415,2.8],[-4.405,5.0],[-4.395,0.9],[-4.385,3.7],[-4.375,-0.6],
    [-4.365,2.2],[-4.355,5.6],[-4.345,1.3],[-4.335,3.9],[-4.325,0.1],[-4.315,4.6],[-4.305,1.9],[-4.295,-0.8],[-4.285,3.0],[-4.275,5.2],
    [-4.265,0.7],[-4.255,2.6],
    [-4.442,2.6],[-4.432,0.5],[-4.422,3.9],[-4.412,1.4],[-4.402,-0.4],[-4.392,2.7],[-4.382,4.8],[-4.372,1.0],[-4.362,3.2],[-4.352,0.2],
    [-4.342,2.0],[-4.332,4.1],[-4.322,1.5],[-4.312,-0.2],[-4.302,2.9],
    [-4.462,6.3],[-4.45,3.4],[-4.438,5.1],[-4.426,1.8],[-4.414,4.0],[-4.402,2.2],[-4.39,3.8]
];
// -4.3 to -1.8
const dotsN = [
    [-4.24,1.6],[-4.22,0.2],[-4.20,2.5],[-4.19,0.9],[-4.17,1.9],[-4.15,-0.1],[-4.12,1.3],[-4.11,2.2],[-4.08,0.5],[-4.07,1.1],
    [-4.04,2.35],[-4.02,-0.05],[-4.00,1.75],[-3.99,0.75],[-3.97,2.6],[-3.95,0.25],[-3.92,1.45],[-3.91,2.05],[-3.88,-0.3],[-3.87,1.15],
    [-3.84,1.7],[-3.82,0.45],[-3.80,2.15],[-3.79,0.85],[-3.77,-0.05],[-3.75,1.85],[-3.72,1.25],[-3.71,0.25],[-3.68,2.25],[-3.67,0.55],
    [-3.64,1.35],[-3.62,-0.25],[-3.60,1.85],[-3.59,0.85],[-3.57,1.45],[-3.55,0.05],[-3.52,1.35],[-3.51,-0.05],[-3.48,2.25],[-3.47,0.65],
    [-3.44,1.5],[-3.42,-0.5],[-3.40,0.9],[-3.39,1.8],[-3.37,0.1],[-3.35,0.7],[-3.32,2.0],[-3.31,-0.4],[-3.28,1.4],[-3.27,0.4],
    [-3.24,2.15],[-3.22,-0.2],[-3.20,1.0],[-3.19,1.6],[-3.17,-0.75],[-3.15,0.7],[-3.12,1.35],[-3.11,0.1],[-3.08,1.8],[-3.07,0.5],
    [-3.04,-0.55],[-3.02,1.35],[-3.00,0.75],[-2.99,-0.25],[-2.97,1.75],[-2.95,0.05],[-2.92,0.95],[-2.91,-0.65],[-2.88,1.45],[-2.87,0.45],
    [-2.84,0.85],[-2.82,-0.55],[-2.80,0.75],[-2.79,-0.65],[-2.77,1.65],[-2.75,0.05],[-2.72,1.05],[-2.71,-0.95],[-2.68,0.45],[-2.67,1.35],
    [-2.64,-0.5],[-2.62,0.1],[-2.60,1.4],[-2.59,-1.0],[-2.57,0.8],[-2.55,-0.2],[-2.52,1.65],[-2.51,-0.7],[-2.48,0.5],[-2.47,1.1],
    [-4.297,1.6],[-4.279,0.45],[-4.262,2.3],[-4.248,1.05],[-4.231,1.9],[-4.213,0.25],
    [-4.197,2.08],[-4.179,0.73],[-4.162,1.38],[-4.148,2.48],[-4.131,0.58],[-4.113,1.68],
    [-4.097,0.7],[-4.079,1.9],[-4.062,0.15],[-4.048,1.35],[-4.031,2.3],[-4.013,0.95],
    [-3.997,1.62],[-3.979,0.32],[-3.962,2.07],[-3.948,1.02],[-3.931,1.77],[-3.913,-0.08],
    [-3.897,1.3],[-3.879,0.15],[-3.862,2.0],[-3.848,0.75],[-3.831,1.6],[-3.813,-0.05],
    [-3.797,1.78],[-3.779,0.43],[-3.762,1.08],[-3.748,2.18],[-3.731,0.28],[-3.713,1.38],
    [-3.697,0.4],[-3.679,1.6],[-3.662,-0.15],[-3.648,1.05],[-3.631,2.0],[-3.613,0.65],
    [-3.597,1.33],[-3.579,0.03],[-3.562,1.78],[-3.548,0.73],[-3.531,1.48],[-3.513,-0.37],
    [-3.497,1.0],[-3.479,-0.15],[-3.462,1.7],[-3.448,0.45],[-3.431,1.3],[-3.413,-0.35],
    [-3.397,1.48],[-3.379,0.13],[-3.362,0.78],[-3.348,1.88],[-3.331,-0.02],[-3.313,1.08],
    [-3.297,0.1],[-3.279,1.3],[-3.262,-0.45],[-3.248,0.75],[-3.231,1.7],[-3.213,0.35],
    [-3.197,1.03],[-3.179,-0.27],[-3.162,1.48],[-3.148,0.43],[-3.131,1.18],[-3.113,-0.67],
    [-3.097,0.7],[-3.079,-0.45],[-3.062,1.4],[-3.048,0.15],[-3.031,1.0],[-3.013,-0.65],
    [-2.997,1.18],[-2.979,-0.17],[-2.962,0.48],[-2.948,1.58],[-2.931,-0.32],[-2.913,0.78],
    [-2.897,-0.2],[-2.879,1.0],[-2.862,-0.75],[-2.848,0.45],[-2.831,1.4],[-2.813,0.05],
    [-2.797,0.73],[-2.779,-0.57],[-2.762,1.18],[-2.748,0.13],[-2.731,0.88],[-2.713,-0.97],
    [-2.697,0.4],[-2.679,-0.75],[-2.662,1.1],[-2.648,-0.15],[-2.631,0.7],[-2.613,-0.95],
    [-2.597,0.88],[-2.579,-0.47],[-2.562,0.18],[-2.548,1.28],[-2.531,-0.62],[-2.513,0.48]
];
const edgeNO = [
    [-4.289,3.2],[-4.266,-0.35],[-4.239,2.7],[-4.221,-0.75],[-4.189,-0.22],[-4.166,3.38],[-4.139,0.08],[-4.121,2.88],
    [-4.089,3.05],[-4.066,-0.5],[-4.039,2.55],[-4.021,-0.9],[-3.989,-0.38],[-3.966,3.22],[-3.939,-0.08],[-3.921,2.72],
    [-3.889,2.9],[-3.866,-0.65],[-3.839,2.4],[-3.821,-1.05],[-3.789,-0.52],[-3.766,3.08],[-3.739,-0.22],[-3.721,2.58],
    [-3.689,2.75],[-3.666,-0.8],[-3.639,2.25],[-3.621,-1.2],[-3.589,-0.67],[-3.566,2.93],[-3.539,-0.37],[-3.521,2.43],
    [-3.489,2.6],[-3.466,-0.95],[-3.439,2.1],[-3.421,-1.35],[-3.389,-0.82],[-3.366,2.78],[-3.339,-0.52],[-3.321,2.28],
    [-3.289,2.45],[-3.266,-1.1],[-3.239,1.95],[-3.221,-1.5],[-3.189,-0.97],[-3.166,2.63],[-3.139,-0.67],[-3.121,2.13],
    [-3.089,2.3],[-3.066,-1.25],[-3.039,1.8],[-3.021,-1.65],[-2.989,-1.12],[-2.966,2.48],[-2.939,-0.82],[-2.921,1.98],
    [-2.889,2.15],[-2.866,-1.4],[-2.839,1.65],[-2.821,-1.8],[-2.789,-1.27],[-2.766,2.33],[-2.739,-0.97],[-2.721,1.83],
    [-2.689,2.0],[-2.666,-1.55],[-2.639,1.5],[-2.621,-1.95],[-2.589,-1.42],[-2.566,2.18],[-2.539,-1.12],[-2.521,1.68],
    [-2.489,1.85],[-2.466,-1.7],[-2.439,1.35],[-2.421,-2.1],[-2.389,-1.62],[-2.366,1.98],[-2.339,-1.32],[-2.321,1.48],
    [-2.289,1.6],[-2.266,-1.95],[-2.239,1.1],[-2.221,-2.35],[-2.189,-1.87],[-2.166,1.73],[-2.139,-1.57],[-2.121,1.23],
    [-2.089,1.35],[-2.066,-2.2],[-2.039,0.85],[-2.021,-2.6],[-1.989,-2.12],[-1.966,1.48],[-1.939,-1.82],[-1.921,0.98],
    [-1.889,1.1],[-1.866,-2.45],[-1.839,0.6],[-1.821,-2.85]
];
const dotsO = [
    [-2.44,-1.6],[-2.42,0.0],[-2.40,0.7],[-2.39,-0.7],[-2.37,1.15],[-2.35,-0.3],[-2.32,-1.3],[-2.31,0.8],[-2.28,0.1],[-2.27,-1.0],
    [-2.24,1.05],[-2.22,-0.8],[-2.20,0.15],[-2.19,-1.6],[-2.17,0.65],[-2.15,-0.45],[-2.12,0.15],[-2.11,-1.4],[-2.08,0.0],[-2.07,-1.5],
    [-2.04,0.95],[-2.02,-0.8],[-2.00,0.3],[-1.99,-1.9],[-1.97,-0.4],[-1.95,0.55],[-1.92,-1.4],[-1.91,-0.7],[-1.88,0.7],[-1.87,-1.9],
    [-1.84,-0.05],[-1.82,-1.15],[-1.80,0.85],
    [-2.497,-0.5],[-2.479,0.7],[-2.462,-1.05],[-2.448,0.15],[-2.431,1.1],[-2.413,-0.25],
    [-2.397,0.38],[-2.379,-0.92],[-2.362,0.83],[-2.348,-0.22],[-2.331,0.53],[-2.313,-1.32],
    [-2.297,0.0],[-2.279,-1.15],[-2.262,0.7],[-2.248,-0.55],[-2.231,0.3],[-2.213,-1.35],
    [-2.197,0.43],[-2.179,-0.92],[-2.162,-0.27],[-2.148,0.83],[-2.131,-1.07],[-2.113,0.03],
    [-2.097,-1.0],[-2.079,0.2],[-2.062,-1.55],[-2.048,-0.35],[-2.031,0.6],[-2.013,-0.75],
    [-1.997,-0.12],[-1.979,-1.42],[-1.962,0.33],[-1.948,-0.72],[-1.931,0.03],[-1.913,-1.82],
    [-1.897,-0.5],[-1.879,-1.65],[-1.862,0.2],[-1.848,-1.05],[-1.831,-0.2],[-1.813,-1.85]
];
// spike at -pi/2
const dotsP = [
    [-1.795,-2.4],[-1.79,0.6],[-1.785,-4.1],[-1.78,-1.2],[-1.775,-6.8],[-1.77,1.5],[-1.765,-3.0],[-1.76,-0.4],[-1.755,-8.5],[-1.75,-2.0],
    [-1.745,2.3],[-1.74,-5.2],[-1.735,-1.0],[-1.73,-3.7],[-1.725,-10.6],[-1.72,0.2],[-1.715,-6.0],[-1.71,-2.6],[-1.705,3.4],[-1.70,-4.6],
    [-1.695,-1.5],[-1.69,-8.0],[-1.685,-3.3],[-1.68,1.0],[-1.675,-12.2],[-1.67,-5.5],[-1.665,-2.2],[-1.66,-15.0],[-1.655,-7.3],[-1.65,0.3],
    [-1.645,-10.1],[-1.64,-3.9],[-1.635,-18.2],[-1.63,-6.2],[-1.625,-13.5],[-1.62,-1.6],[-1.615,-9.0],[-1.61,-21.0],[-1.605,-4.5],[-1.60,-16.3],
    [-1.898,-1.2],[-1.888,0.8],[-1.878,-2.6],[-1.868,-0.1],[-1.858,-3.8],[-1.848,1.4],[-1.838,-1.9],[-1.828,-5.1],[-1.818,0.3],[-1.808,-3.0],
    [-1.798,-6.3],[-1.788,-0.9],[-1.778,-4.4],[-1.768,2.6],[-1.758,-2.1],[-1.748,-7.4],[-1.738,-0.2],[-1.728,-5.6],[-1.718,-9.3],[-1.708,-1.7],
    [-1.698,-11.4],[-1.688,-4.0],[-1.678,-7.7],[-1.668,-13.8],[-1.658,-2.9],[-1.648,-17.0],[-1.638,-8.4],[-1.628,-23.2],[-1.618,-11.8],[-1.608,-26.5],
    [-1.602,-6.8],[-1.596,-19.0],[-1.592,-31.0],[-1.588,-15.3],
    [-1.898,-3.9],[-1.882,1.6],[-1.866,-4.7],[-1.852,2.0],[-1.836,-5.6],[-1.822,1.9],[-1.806,-7.5],[-1.792,2.7],[-1.776,-9.0],[-1.762,3.6],
    [-1.746,-10.9],[-1.732,1.2],[-1.716,-12.8],[-1.702,-15.2],[-1.69,-17.7],[-1.68,-20.4],[-1.67,-10.0],[-1.66,-24.0],[-1.65,-13.8],[-1.64,-27.9],
    [-1.63,-17.6],[-1.62,-31.8],[-1.61,-11.3],[-1.6,-36.5]
];
const dotsQ = [
    [-1.598,-27],[-1.596,-11],[-1.594,-38],[-1.592,-19],[-1.590,-52],[-1.588,-24],[-1.586,-8],[-1.584,-64],[-1.582,-33],[-1.580,-77],
    [-1.578,-45],[-1.576,-14],[-1.574,-88],[-1.572,-58],[-1.570,-30],[-1.568,-70],[-1.566,-41],[-1.564,-83],[-1.562,-22],[-1.560,-49],
    [-1.558,-36],[-1.556,-61],[-1.554,-17],[-1.552,-29],[-1.55,-43],[-1.585,14.6],[-1.575,9.8],[-1.565,6.1],[-1.59,4.2],[-1.57,11.5]
];
const dotsR = [
    [-1.545,-12.5],[-1.54,-5.0],[-1.535,-20.0],[-1.53,-2.1],[-1.525,-8.6],[-1.52,1.8],[-1.515,-4.3],[-1.51,-14.0],[-1.505,-0.5],[-1.50,-6.7],
    [-1.495,2.9],[-1.49,-3.1],[-1.485,-9.8],[-1.48,0.4],[-1.475,-5.4],[-1.47,-1.6],[-1.465,3.5],[-1.46,-7.2],[-1.455,-2.5],[-1.45,0.9],
    [-1.445,-4.6],[-1.44,-0.3],[-1.435,-8.9],[-1.43,1.9],[-1.425,-2.9],[-1.42,-5.8],[-1.415,0.2],[-1.41,-1.8],[-1.405,3.9],[-1.40,-3.6],
    [-1.39,-0.9],[-1.38,1.4],[-1.37,-4.8],[-1.36,-1.2],[-1.35,2.4],[-1.34,-2.7],[-1.33,0.5],[-1.32,-6.1],[-1.31,-0.6],[-1.30,1.7],
    [-1.29,-3.3],[-1.28,0.0],[-1.27,2.6],[-1.26,-1.9],[-1.25,0.8],[-1.24,-4.0],[-1.23,-0.2],[-1.22,1.5],[-1.21,-2.3],[-1.20,2.9],
    [-1.19,-0.8],[-1.18,0.6],[-1.17,-1.5],[-1.16,2.0],[-1.15,-0.3],[-1.14,1.2],
    [-1.558,-9.5],[-1.552,-24.0],[-1.548,-3.4],[-1.542,-16.8],[-1.538,-7.0],[-1.532,-11.3],[-1.528,-26.0],[-1.522,-4.9],[-1.518,-9.9],[-1.512,-2.2],
    [-1.502,-12.6],[-1.492,-5.6],[-1.482,-1.0],[-1.472,-8.1],[-1.462,0.8],[-1.452,-3.9],[-1.442,-6.5],[-1.432,-1.3],[-1.422,2.1],[-1.412,-4.2],
    [-1.402,-0.6],[-1.392,-2.5],[-1.382,1.0],[-1.372,-1.7],[-1.362,-3.2],[-1.352,0.4],
    [-1.556,-30.5],[-1.548,-19.2],[-1.54,-27.0],[-1.532,-15.0],[-1.524,-21.5],[-1.516,-12.1],[-1.506,-16.8],[-1.496,-9.0],[-1.486,-13.6],[-1.476,-6.8],
    [-1.466,-10.5],[-1.456,-4.4],[-1.446,-8.0],[-1.436,2.6],[-1.426,-6.2],[-1.414,-3.0],[-1.402,-5.0],[-1.39,1.8],[-1.378,-3.4],[-1.366,-1.0]
];
// flat middle stretch
const dotsS = [
    [-1.12,1.1],[-1.10,-0.3],[-1.08,2.0],[-1.07,0.4],[-1.05,1.4],[-1.03,-0.6],[-1.00,0.8],[-0.99,1.7],[-0.96,0.0],[-0.95,0.6],
    [-0.92,1.9],[-0.90,-0.5],[-0.88,1.3],[-0.87,0.3],[-0.85,2.15],[-0.83,-0.2],[-0.80,1.0],[-0.79,1.6],[-0.76,-0.75],[-0.75,0.7],
    [-0.72,1.35],[-0.70,0.1],[-0.68,1.8],[-0.67,0.5],[-0.65,-0.4],[-0.63,1.5],[-0.60,0.9],[-0.59,-0.1],[-0.56,1.9],[-0.55,0.2],
    [-0.52,1.1],[-0.50,-0.5],[-0.48,1.6],[-0.47,0.6],[-0.45,1.2],[-0.43,-0.2],[-0.40,1.1],[-0.39,-0.3],[-0.36,2.0],[-0.35,0.4],
    [-0.32,1.4],[-0.30,-0.6],[-0.28,0.8],[-0.27,1.7],[-0.25,0.0],[-0.23,0.6],[-0.20,1.9],[-0.19,-0.5],[-0.16,1.3],[-0.15,0.3],
    [-0.12,2.15],[-0.10,-0.2],[-0.08,1.0],[-0.07,1.6],[-0.05,-0.75],[-0.03,0.7],[0.00,1.35],[0.01,0.1],[0.04,1.8],[0.05,0.5],
    [0.08,-0.4],[0.10,1.5],[0.12,0.9],[0.13,-0.1],[0.15,1.9],[0.17,0.2],[0.20,1.1],[0.21,-0.5],[0.24,1.6],[0.25,0.6],
    [0.28,1.2],[0.30,-0.2],[0.32,1.1],[0.33,-0.3],[0.35,2.0],[0.37,0.4],[0.40,1.4],[0.41,-0.6],[0.44,0.8],[0.45,1.7],
    [0.48,0.0],[0.50,0.6],[0.52,1.9],[0.53,-0.5],[0.55,1.3],[0.57,0.3],[0.60,2.15],[0.61,-0.2],[0.64,1.0],[0.65,1.6],
    [0.68,-0.75],[0.70,0.7],[0.72,1.35],[0.73,0.1],[0.75,1.8],[0.77,0.5],[0.80,-0.4],[0.81,1.5],[0.84,0.9],[0.85,-0.1],
    [0.88,1.9],[0.90,0.2],[0.92,1.1],[0.93,-0.5],[0.95,1.6],[0.97,0.6],[1.00,1.2],[1.01,-0.2],[1.04,1.1],[1.05,-0.3],
    [1.08,2.0],[1.10,0.4],[1.12,1.4],[1.13,-0.6],[1.15,0.8],[1.17,1.7],[1.20,0.0],[1.21,0.6],[1.24,1.9],[1.25,-0.5],
    [-1.11,0.2],[-1.09,1.3],[-1.06,-0.1],[-1.02,0.9],[-0.98,1.6],[-0.91,0.5],[-0.89,-0.4],[-0.86,1.1],[-0.82,0.7],[-0.78,1.8],
    [-0.71,0.0],[-0.69,1.4],[-0.66,0.3],[-0.62,-0.6],[-0.58,1.0],[-0.51,0.2],[-0.49,1.3],[-0.46,-0.1],[-0.42,0.9],[-0.38,1.6],
    [-0.31,0.5],[-0.29,-0.4],[-0.26,1.1],[-0.22,0.7],[-0.18,1.8],[-0.11,0.0],[-0.09,1.4],[-0.06,0.3],[-0.02,-0.6],[0.02,1.0],
    [0.09,0.2],[0.11,1.3],[0.14,-0.1],[0.18,0.9],[0.22,1.6],[0.29,0.5],[0.31,-0.4],[0.34,1.1],[0.38,0.7],[0.42,1.8],
    [0.49,0.0],[0.51,1.4],[0.54,0.3],[0.58,-0.6],[0.62,1.0],[0.69,0.2],[0.71,1.3],[0.74,-0.1],[0.78,0.9],[0.82,1.6],
    [0.89,0.5],[0.91,-0.4],[0.94,1.1],[0.98,0.7],[1.02,1.8],[1.09,0.0],[1.11,1.4],[1.14,0.3],[1.18,-0.6],[1.22,1.0],
    [-0.8,2.8],[-0.3,-1.7],[0.3,2.9],[0.7,-1.6],[1.0,2.7],[-0.55,2.6],[0.15,-1.5],
    [-1.197,1.15],[-1.179,0.0],[-1.162,1.85],[-1.148,0.6],[-1.131,1.45],[-1.113,-0.2],
    [-1.097,1.6],[-1.079,0.25],[-1.062,0.9],[-1.048,2.0],[-1.031,0.1],[-1.013,1.2],
    [-0.997,0.5],[-0.979,1.7],[-0.962,-0.05],[-0.948,1.15],[-0.931,2.1],[-0.913,0.75],
    [-0.897,1.35],[-0.879,0.05],[-0.862,1.8],[-0.848,0.75],[-0.831,1.5],[-0.813,-0.35],
    [-0.797,1.2],[-0.779,0.05],[-0.762,1.9],[-0.748,0.65],[-0.731,1.5],[-0.713,-0.15],
    [-0.697,1.55],[-0.679,0.2],[-0.662,0.85],[-0.648,1.95],[-0.631,0.05],[-0.613,1.15],
    [-0.597,0.4],[-0.579,1.6],[-0.562,-0.15],[-0.548,1.05],[-0.531,2.0],[-0.513,0.65],
    [-0.497,1.3],[-0.479,0.0],[-0.462,1.75],[-0.448,0.7],[-0.431,1.45],[-0.413,-0.4],
    [-0.397,1.25],[-0.379,0.1],[-0.362,1.95],[-0.348,0.7],[-0.331,1.55],[-0.313,-0.1],
    [-0.297,1.65],[-0.279,0.3],[-0.262,0.95],[-0.248,2.05],[-0.231,0.15],[-0.213,1.25],
    [-0.197,0.45],[-0.179,1.65],[-0.162,-0.1],[-0.148,1.1],[-0.131,2.05],[-0.113,0.7],
    [-0.097,1.25],[-0.079,-0.05],[-0.062,1.7],[-0.048,0.65],[-0.031,1.4],[-0.013,-0.45],
    [0.003,1.15],[0.021,0.0],[0.038,1.85],[0.052,0.6],[0.069,1.45],[0.087,-0.2],
    [0.103,1.6],[0.121,0.25],[0.138,0.9],[0.152,2.0],[0.169,0.1],[0.187,1.2],
    [0.203,0.5],[0.221,1.7],[0.238,-0.05],[0.252,1.15],[0.269,2.1],[0.287,0.75],
    [0.303,1.35],[0.321,0.05],[0.338,1.8],[0.352,0.75],[0.369,1.5],[0.387,-0.35],
    [0.403,1.2],[0.421,0.05],[0.438,1.9],[0.452,0.65],[0.469,1.5],[0.487,-0.15],
    [0.503,1.55],[0.521,0.2],[0.538,0.85],[0.552,1.95],[0.569,0.05],[0.587,1.15],
    [0.603,0.4],[0.621,1.6],[0.638,-0.15],[0.652,1.05],[0.669,2.0],[0.687,0.65],
    [0.703,1.3],[0.721,0.0],[0.738,1.75],[0.752,0.7],[0.769,1.45],[0.787,-0.4],
    [0.803,1.25],[0.821,0.1],[0.838,1.95],[0.852,0.7],[0.869,1.55],[0.887,-0.1],
    [0.903,1.65],[0.921,0.3],[0.938,0.95],[0.952,2.05],[0.969,0.15],[0.987,1.25],
    [1.003,0.45],[1.021,1.65],[1.038,-0.1],[1.052,1.1],[1.069,2.05],[1.087,0.7],
    [1.103,1.25],[1.121,-0.05],[1.138,1.7],[1.152,0.65],[1.169,1.4],[1.187,-0.45],
    [1.203,1.15],[1.221,0.0],[1.238,1.85],[1.252,0.6],[1.269,1.45],[1.287,-0.2]
];
const edgeS = [
    [-1.189,2.7],[-1.166,-0.85],[-1.139,2.2],[-1.121,-1.25],[-1.089,-0.75],[-1.066,2.85],[-1.039,-0.45],[-1.021,2.35],
    [-0.989,2.8],[-0.966,-0.75],[-0.939,2.3],[-0.921,-1.15],[-0.889,-0.65],[-0.866,2.95],[-0.839,-0.35],[-0.821,2.45],
    [-0.789,2.6],[-0.766,-0.95],[-0.739,2.1],[-0.721,-1.35],[-0.689,-0.55],[-0.666,3.05],[-0.639,-0.25],[-0.621,2.55],
    [-0.589,2.7],[-0.566,-0.85],[-0.539,2.2],[-0.521,-1.25],[-0.489,-0.75],[-0.466,2.85],[-0.439,-0.45],[-0.421,2.35],
    [-0.389,2.8],[-0.366,-0.75],[-0.339,2.3],[-0.321,-1.15],[-0.289,-0.65],[-0.266,2.95],[-0.239,-0.35],[-0.221,2.45],
    [-0.189,2.6],[-0.166,-0.95],[-0.139,2.1],[-0.121,-1.35],[-0.089,-0.55],[-0.066,3.05],[-0.039,-0.25],[-0.021,2.55],
    [0.011,2.7],[0.034,-0.85],[0.061,2.2],[0.079,-1.25],[0.111,-0.75],[0.134,2.85],[0.161,-0.45],[0.179,2.35],
    [0.211,2.8],[0.234,-0.75],[0.261,2.3],[0.279,-1.15],[0.311,-0.65],[0.334,2.95],[0.361,-0.35],[0.379,2.45],
    [0.411,2.6],[0.434,-0.95],[0.461,2.1],[0.479,-1.35],[0.511,-0.55],[0.534,3.05],[0.561,-0.25],[0.579,2.55],
    [0.611,2.7],[0.634,-0.85],[0.661,2.2],[0.679,-1.25],[0.711,-0.75],[0.734,2.85],[0.761,-0.45],[0.779,2.35],
    [0.811,2.8],[0.834,-0.75],[0.861,2.3],[0.879,-1.15],[0.911,-0.65],[0.934,2.95],[0.961,-0.35],[0.979,2.45],
    [1.011,2.6],[1.034,-0.95],[1.061,2.1],[1.079,-1.35],[1.111,-0.55],[1.134,3.05],[1.161,-0.25],[1.179,2.55],
    [1.211,2.7],[1.234,-0.85],[1.261,2.2],[1.279,-1.25]
];
// spike at pi/2
const dotsT = [
    [1.27,1.9],[1.28,-0.6],[1.29,2.8],[1.30,0.3],[1.31,-1.4],[1.32,1.5],[1.33,3.4],[1.34,-0.2],[1.35,2.1],[1.36,-1.9],
    [1.37,0.9],[1.38,3.0],[1.39,-0.9],[1.40,1.8],[1.41,4.2],[1.42,0.0],[1.43,-2.6],[1.44,2.4],[1.45,1.1],[1.46,5.3],
    [1.47,-1.2],[1.48,0.6],[1.49,3.7],[1.50,-3.4],[1.505,7.2],[1.51,1.5],[1.515,-5.0],[1.52,4.4],[1.525,-1.8],[1.53,9.6],
    [1.535,0.4],[1.54,-7.5],[1.545,2.9],[1.55,6.4],[1.555,-3.8],[1.56,10.5],
    [1.352,0.7],[1.362,2.4],[1.372,-0.8],[1.382,1.6],[1.392,3.8],[1.402,-0.3],[1.412,2.0],[1.422,-1.6],[1.432,1.2],[1.442,4.6],
    [1.452,-0.6],[1.462,2.7],[1.472,-2.3],[1.482,1.9],[1.492,5.8],[1.502,-1.0],[1.512,3.3],[1.522,-3.0],[1.532,6.6],[1.538,-1.3],
    [1.542,2.2],[1.548,-4.4],[1.552,8.5],[1.556,0.9],
    [1.402,3.5],[1.418,-2.5],[1.434,5.1],[1.448,-3.3],[1.462,6.6],[1.476,-4.0],[1.488,8.1],[1.5,-5.5],[1.51,10.2],[1.52,-6.4],
    [1.53,12.3],[1.538,-8.5],[1.546,14.0],[1.552,-10.6],[1.558,17.5]
];
const dotsU = [
    [1.561,-9],[1.563,-21],[1.565,-4],[1.567,-35],[1.569,-14],[1.571,-52],[1.573,-27],[1.575,-68],[1.577,-11],[1.579,-42],
    [1.581,-85],[1.583,-19],[1.585,-59],[1.587,-31],[1.589,-76],[1.591,-6],[1.593,-24],[1.595,-47],
    [1.566,24],[1.572,38],[1.578,29],[1.584,16],[1.59,13]
];
const dotsV = [
    [1.60,-15.5],[1.605,-3.2],[1.61,-9.1],[1.615,-22.0],[1.62,-5.6],[1.625,-12.4],[1.63,-1.5],[1.635,-7.8],[1.64,-18.0],[1.645,-3.9],
    [1.65,-10.5],[1.655,-6.2],[1.66,-0.8],[1.665,-13.2],[1.67,-4.7],[1.675,-8.6],[1.68,-2.3],[1.685,-11.0],[1.69,-5.9],[1.70,-1.1],
    [1.71,-7.4],[1.72,-3.5],[1.73,-9.8],[1.74,-0.6],[1.75,-5.0],[1.76,-2.7],[1.77,-8.1],[1.78,-4.2],[1.79,-1.6],[1.80,-6.5],
    [1.81,-3.0],[1.82,-10.2],[1.83,-2.0],[1.84,-4.8],[1.85,-0.9],[1.86,-3.7],[1.87,-6.0],[1.88,-1.8],[1.89,-4.4],[1.90,-2.6],
    [1.586,-38],[1.588,-14],[1.592,-26],[1.594,-9],[1.597,-33],[1.602,-20.5],[1.608,-6.4],[1.612,-13.6],[1.618,-28.0],[1.622,-9.7],
    [1.628,-17.4],[1.632,-4.1],[1.638,-11.6],[1.642,-24.2],[1.648,-7.1],[1.652,-14.7],[1.658,-2.8],[1.662,-19.6],[1.668,-9.2],[1.672,-5.3],
    [1.678,-12.8],[1.682,-3.0],[1.688,-8.0],[1.692,-15.9],[1.698,-4.4],[1.704,-10.6],[1.712,-2.2],[1.718,-6.9],[1.724,-12.3],[1.732,-3.9],
    [1.738,-8.3],[1.746,-1.5],[1.754,-6.0],[1.762,-9.6],[1.772,-2.9],[1.782,-5.5],[1.792,-7.6],[1.802,-1.7],[1.812,-4.6],[1.822,-3.1],
    [1.832,-6.4],[1.842,-1.4],[1.852,-3.9],[1.862,-2.2],[1.872,-4.9],[1.882,-0.8],[1.892,-3.3],
    [1.6,-32],[1.606,-24],[1.614,-17.0],[1.62,-30.5],[1.626,-21.5],[1.634,-15.6],[1.644,-22.7],[1.654,-17.9],[1.664,-11.8],[1.674,-16.3],
    [1.686,-13.5],[1.698,-9.1],[1.71,-12.6],[1.722,-7.6],[1.736,-10.7],[1.75,-6.2],[1.764,-8.6],[1.778,-5.0],[1.792,-7.1],[1.808,-3.8],
    [1.824,-5.8],[1.84,-2.6],[1.856,-4.9],[1.872,-2.0],[1.888,-4.1]
];
// 1.9 to 4.1: band just under zero
const dotsW = [
    [1.92,-2.9],[1.94,-1.5],[1.96,-0.6],[1.97,-2.3],[1.99,-1.7],[2.01,-0.4],[2.04,-2.8],[2.05,-1.0],[2.08,-2.0],[2.09,-0.15],
    [2.12,-2.5],[2.14,-1.3],[2.16,-0.7],[2.17,-3.05],[2.19,-1.6],[2.21,-0.95],[2.24,-2.2],[2.25,-0.5],[2.28,-1.8],[2.29,-2.7],
    [2.32,-0.7],[2.34,-1.3],[2.36,-2.3],[2.37,-0.3],[2.39,-2.0],[2.41,-1.1],[2.44,-2.7],[2.45,-0.6],[2.48,-1.6],[2.49,-1.0],
    [2.52,-2.4],[2.54,-1.1],[2.56,-2.5],[2.57,-0.2],[2.59,-1.8],[2.61,-0.8],[2.64,-2.8],[2.65,-1.4],[2.68,-0.5],[2.69,-2.2],
    [2.72,-1.55],[2.74,-0.25],[2.76,-2.65],[2.77,-0.85],[2.79,-1.85],[2.81,0.0],[2.84,-2.35],[2.85,-1.15],[2.88,-0.55],[2.89,-2.9],
    [2.92,-1.4],[2.94,-0.75],[2.96,-2.0],[2.97,-0.3],[2.99,-1.6],[3.01,-2.5],[3.04,-0.6],[3.05,-1.2],[3.08,-2.2],[3.09,-0.2],
    [3.12,-1.85],[3.14,-0.95],[3.16,-2.55],[3.17,-0.45],[3.19,-1.45],[3.21,-0.85],[3.24,-2.25],[3.25,-0.95],[3.28,-2.35],[3.29,-0.05],
    [3.32,-1.6],[3.34,-0.6],[3.36,-2.6],[3.37,-1.2],[3.39,-0.3],[3.41,-2.0],[3.44,-1.4],[3.45,-0.1],[3.48,-2.5],[3.49,-0.7],
    [3.52,-1.6],[3.54,0.25],[3.56,-2.1],[3.57,-0.9],[3.59,-0.3],[3.61,-2.65],[3.64,-1.2],[3.65,-0.55],[3.68,-1.8],[3.69,-0.1],
    [3.72,-1.2],[3.74,-2.1],[3.76,-0.2],[3.77,-0.8],[3.79,-1.8],[3.81,0.2],[3.84,-1.5],[3.85,-0.6],[3.88,-2.2],[3.89,-0.1],
    [3.92,-0.9],[3.94,-0.3],[3.96,-1.7],[3.97,-0.3],[3.99,-1.6],[4.01,0.7],[4.04,-0.9],[4.05,0.1],
    [1.903,-1.35],[1.921,-2.5],[1.938,-0.65],[1.952,-1.9],[1.969,-1.05],[1.987,-2.7],
    [2.003,-0.8],[2.021,-2.15],[2.038,-1.5],[2.052,-0.4],[2.069,-2.3],[2.087,-1.2],
    [2.103,-2.1],[2.121,-0.9],[2.138,-2.65],[2.152,-1.45],[2.169,-0.5],[2.187,-1.85],
    [2.203,-1.05],[2.221,-2.35],[2.238,-0.6],[2.252,-1.65],[2.269,-0.9],[2.287,-2.75],
    [2.303,-1.25],[2.321,-2.4],[2.338,-0.55],[2.352,-1.8],[2.369,-0.95],[2.387,-2.6],
    [2.403,-0.7],[2.421,-2.05],[2.438,-1.4],[2.452,-0.3],[2.469,-2.2],[2.487,-1.1],
    [2.503,-2.0],[2.521,-0.8],[2.538,-2.55],[2.552,-1.35],[2.569,-0.4],[2.587,-1.75],
    [2.603,-0.95],[2.621,-2.25],[2.638,-0.5],[2.652,-1.55],[2.669,-0.8],[2.687,-2.65],
    [2.703,-1.2],[2.721,-2.35],[2.738,-0.5],[2.752,-1.75],[2.769,-0.9],[2.787,-2.55],
    [2.803,-0.6],[2.821,-1.95],[2.838,-1.3],[2.852,-0.2],[2.869,-2.1],[2.887,-1.0],
    [2.903,-1.9],[2.921,-0.7],[2.938,-2.45],[2.952,-1.25],[2.969,-0.3],[2.987,-1.65],
    [3.003,-0.85],[3.021,-2.15],[3.038,-0.4],[3.052,-1.45],[3.069,-0.7],[3.087,-2.55],
    [3.103,-1.1],[3.121,-2.25],[3.138,-0.4],[3.152,-1.65],[3.169,-0.8],[3.187,-2.45],
    [3.203,-0.5],[3.221,-1.85],[3.238,-1.2],[3.252,-0.1],[3.269,-2.0],[3.287,-0.9],
    [3.303,-1.75],[3.321,-0.55],[3.338,-2.3],[3.352,-1.1],[3.369,-0.15],[3.387,-1.5],
    [3.403,-0.7],[3.421,-2.0],[3.438,-0.25],[3.452,-1.3],[3.469,-0.55],[3.487,-2.4],
    [3.503,-0.9],[3.521,-2.05],[3.538,-0.2],[3.552,-1.45],[3.569,-0.6],[3.587,-2.25],
    [3.603,-0.25],[3.621,-1.6],[3.638,-0.95],[3.652,0.15],[3.669,-1.75],[3.687,-0.65],
    [3.703,-1.45],[3.721,-0.25],[3.738,-2.0],[3.752,-0.8],[3.769,0.15],[3.787,-1.2],
    [3.803,-0.35],[3.821,-1.65],[3.838,0.1],[3.852,-0.95],[3.869,-0.2],[3.887,-2.05],
    [3.903,-0.45],[3.921,-1.6],[3.938,0.25],[3.952,-1.0],[3.969,-0.15],[3.987,-1.8],
    [4.003,0.3],[4.021,-1.05],[4.038,-0.4],[4.052,0.7],[4.069,-1.2],[4.087,-0.1]
];
const edgeW = [
    [1.911,0.25],[1.934,-3.3],[1.961,-0.25],[1.979,-3.7],[2.011,-3.1],[2.034,0.5],[2.061,-2.8],[2.079,0.0],
    [2.111,0.25],[2.134,-3.3],[2.161,-0.25],[2.179,-3.7],[2.211,-3.05],[2.234,0.55],[2.261,-2.75],[2.279,0.05],
    [2.311,0.35],[2.334,-3.2],[2.361,-0.15],[2.379,-3.6],[2.411,-3.0],[2.434,0.6],[2.461,-2.7],[2.479,0.1],
    [2.511,0.35],[2.534,-3.2],[2.561,-0.15],[2.579,-3.6],[2.611,-2.95],[2.634,0.65],[2.661,-2.65],[2.679,0.15],
    [2.711,0.4],[2.734,-3.15],[2.761,-0.1],[2.779,-3.55],[2.811,-2.9],[2.834,0.7],[2.861,-2.6],[2.879,0.2],
    [2.911,0.45],[2.934,-3.1],[2.961,-0.05],[2.979,-3.5],[3.011,-2.85],[3.034,0.75],[3.061,-2.55],[3.079,0.25],
    [3.111,0.5],[3.134,-3.05],[3.161,0.0],[3.179,-3.45],[3.211,-2.8],[3.234,0.8],[3.261,-2.5],[3.279,0.3],
    [3.311,0.6],[3.334,-2.95],[3.361,0.1],[3.379,-3.35],[3.411,-2.7],[3.434,0.9],[3.461,-2.4],[3.479,0.4],
    [3.511,0.7],[3.534,-2.85],[3.561,0.2],[3.579,-3.25],[3.611,-2.55],[3.634,1.05],[3.661,-2.25],[3.679,0.55],
    [3.711,0.9],[3.734,-2.65],[3.761,0.4],[3.779,-3.05],[3.811,-2.35],[3.834,1.25],[3.861,-2.05],[3.879,0.75],
    [3.911,1.15],[3.934,-2.4],[3.961,0.65],[3.979,-2.8],[4.011,-2.0],[4.034,1.6],[4.061,-1.7],[4.079,1.1]
];
const dotsX = [
    [4.07,-1.2],[4.08,0.9],[4.09,-2.0],[4.10,0.1],[4.11,1.5],[4.12,-1.0],[4.13,0.6],[4.14,-0.4],[4.15,2.0],[4.16,-1.5],
    [4.17,0.3],[4.18,1.2],[4.19,-0.7],[4.20,2.6],[4.21,0.0],[4.22,1.7],[4.23,-0.9],[4.24,3.1],[4.25,0.8],[4.26,2.2],
    [4.27,-0.3],[4.28,1.4],[4.29,3.6],[4.30,0.2],[4.31,2.5],[4.32,-0.5],[4.33,1.9],[4.34,4.2],[4.35,0.7],[4.36,3.0],
    [4.37,1.3],[4.38,5.1],[4.39,0.4],[4.40,2.7],[4.41,4.6],[4.42,1.6],[4.43,6.0],[4.44,2.2],[4.45,3.8],[4.46,1.0],
    [4.47,7.1],[4.48,2.9],[4.49,5.0],[4.50,1.8],
    [4.102,-0.9],[4.112,0.5],[4.122,1.8],[4.132,-0.3],[4.142,1.0],[4.152,-1.1],[4.162,2.3],[4.172,0.7],[4.182,-0.4],[4.192,1.5],
    [4.202,0.1],[4.212,2.8],[4.222,0.9],[4.232,1.9],[4.242,-0.2],[4.252,1.2],[4.262,3.3],[4.272,0.6],[4.282,2.4],[4.292,1.1],
    [4.302,3.9],[4.312,0.4],[4.322,2.0],[4.332,1.4],[4.342,3.2],
    [4.352,2.6],[4.364,0.9],[4.376,3.8],[4.388,1.9],[4.398,5.5],[4.408,2.8],[4.418,0.8],[4.428,4.5],[4.438,7.6],[4.448,2.0],
    [4.458,5.9],[4.468,3.6],[4.478,9.2],[4.488,4.2],[4.498,6.9],
    [4.304,1.6],[4.318,3.7],[4.334,0.5],[4.346,4.9],[4.358,2.1],[4.372,6.0],[4.384,3.2],[4.396,7.9],[4.41,4.0],[4.422,9.5],
    [4.434,5.3],[4.446,11.2],[4.456,3.8],[4.466,12.6],[4.476,6.7],[4.486,14.3],[4.496,9.9]
];
// spike at 3pi/2
const dotsY = [
    [4.505,3.5],[4.51,8.6],[4.515,5.4],[4.52,2.3],[4.525,10.2],[4.53,6.8],[4.535,4.1],[4.54,12.5],[4.545,7.7],[4.55,3.0],
    [4.555,9.4],[4.56,14.8],[4.565,5.9],[4.57,11.1],[4.575,7.2],[4.58,17.0],[4.585,4.6],[4.59,9.9],[4.595,13.4],[4.60,6.3],
    [4.605,19.5],[4.61,11.8],[4.615,8.0],[4.62,15.6],[4.625,22.4],[4.63,10.0],[4.635,6.7],[4.64,18.2],[4.645,13.1],[4.65,25.5],
    [4.655,9.2],[4.66,16.4],[4.665,30.0],[4.67,12.7],[4.675,21.0],[4.68,36.5],[4.685,17.6],[4.688,44],[4.691,27],[4.694,58],
    [4.697,35],[4.70,71],[4.703,48],[4.706,86],[4.709,40],[4.712,98],[4.715,63],[4.718,52],[4.721,79],[4.724,31],
    [4.727,67],[4.73,45],[4.733,24],[4.736,39],
    [4.508,12.0],[4.518,7.4],[4.528,3.4],[4.538,9.5],[4.548,14.6],[4.558,6.3],[4.568,10.9],[4.578,19.3],[4.588,8.2],[4.598,15.8],
    [4.608,11.5],[4.618,23.0],[4.628,14.0],[4.638,8.8],[4.648,20.7],[4.658,12.2],[4.668,27.5],[4.674,17.0],[4.678,41.5],[4.682,22.6],
    [4.686,29.2],[4.69,53],[4.692,19.5],[4.696,42],[4.7,28.3],[4.704,62],[4.708,34],[4.714,74],[4.72,55],[4.726,37],
    [4.732,88],[4.738,48],
    [4.506,16.2],[4.516,11.0],[4.526,18.4],[4.536,13.4],[4.546,20.9],[4.556,16.6],[4.566,23.4],[4.576,12.9],[4.586,26.5],[4.596,18.8],
    [4.606,29.4],[4.616,20.2],[4.626,33.5],[4.636,25.1],[4.646,38.0],[4.656,29.0],[4.666,45.0]
];
const dotsZ = [
    [4.74,18.5],[4.745,9.0],[4.75,26.0],[4.755,4.4],[4.76,13.3],[4.765,33.0],[4.77,7.1],[4.775,11.0],[4.78,2.5],[4.785,16.2],
    [4.79,5.6],[4.795,9.8],[4.80,0.4],[4.805,12.4],[4.81,3.7],[4.815,7.5],[4.82,-0.6],[4.825,10.5],[4.83,4.8],[4.835,2.0],
    [4.84,8.3],[4.85,1.2],[4.855,6.1],[4.86,11.6],[4.87,3.1],[4.875,0.1],[4.88,7.0],[4.89,2.4],[4.895,5.2],[4.90,9.1],
    [4.91,1.5],[4.92,4.0],[4.93,6.6],[4.94,2.9],[4.95,0.6],[4.96,5.4],[4.97,3.5],[4.98,7.8],[4.99,1.9],[5.00,4.6],
    [4.742,30],[4.748,14.5],[4.752,21.4],[4.758,8.3],[4.762,17.6],[4.768,11.4],[4.772,24.8],[4.778,6.4],[4.782,13.9],[4.788,9.2],
    [4.792,19.3],[4.798,4.7],[4.802,10.5],[4.808,7.6],[4.812,14.9],[4.818,3.0],[4.822,8.9],[4.828,12.8],[4.838,5.9],[4.848,9.6],
    [4.858,3.4],[4.868,7.7],[4.878,4.9],[4.888,9.9],[4.898,1.8],[4.908,6.3],[4.918,3.6],[4.928,8.0],[4.938,4.8],[4.948,2.4],
    [4.958,6.8],[4.968,4.1],[4.978,2.6],[4.988,5.6],[4.998,3.2],
    [4.744,39],[4.75,31.0],[4.756,25.5],[4.764,21.2],[4.77,16.6],[4.78,20.6],[4.79,12.4],[4.8,17.1],[4.81,8.8],[4.82,13.6],
    [4.83,7.0],[4.84,11.3],[4.85,5.4],[4.86,9.1],[4.872,4.0],[4.884,8.0],[4.896,6.1],[4.91,7.3],[4.924,5.0],[4.938,6.9],
    [4.952,4.4],[4.966,6.2],[4.98,5.1],[4.994,3.0],[5.01,5.3],[5.03,4.0],[5.05,4.9],[5.07,3.6]
];
// 5 to 7.35: band falling
const dotsAA = [
    [5.02,3.4],[5.04,2.0],[5.06,4.3],[5.07,2.7],[5.09,3.7],[5.11,1.65],[5.14,3.0],[5.15,3.9],[5.18,2.2],[5.19,2.8],
    [5.22,4.0],[5.24,1.6],[5.26,3.4],[5.27,2.4],[5.29,4.2],[5.31,1.85],[5.34,3.05],[5.35,3.6],[5.38,1.25],[5.39,2.7],
    [5.42,3.25],[5.44,2.0],[5.46,3.7],[5.47,2.4],[5.49,1.5],[5.51,3.35],[5.54,2.75],[5.55,1.75],[5.58,3.7],[5.59,2.0],
    [5.62,2.8],[5.64,1.2],[5.66,3.3],[5.67,2.3],[5.69,2.85],[5.71,1.45],[5.74,2.75],[5.75,1.35],[5.78,3.6],[5.79,2.0],
    [5.82,2.9],[5.84,0.9],[5.86,2.3],[5.87,3.2],[5.89,1.45],[5.91,2.05],[5.94,3.3],[5.95,0.9],[5.98,2.65],[5.99,1.65],
    [6.02,3.35],[6.04,1.0],[6.06,2.15],[6.07,2.7],[6.09,0.35],[6.11,1.85],[6.14,2.45],[6.15,1.2],[6.18,2.85],[6.19,1.55],
    [6.22,0.6],[6.24,2.5],[6.26,1.85],[6.27,0.85],[6.29,2.85],[6.31,1.1],[6.34,2.0],[6.35,0.4],[6.38,2.4],[6.39,1.4],
    [6.42,1.9],[6.44,0.5],[6.46,1.8],[6.47,0.35],[6.49,2.65],[6.51,1.05],[6.54,1.95],[6.55,-0.05],[6.58,1.3],[6.59,2.2],
    [5.008,1.6],[5.018,4.5],[5.028,2.5],[5.038,3.7],
    [5.003,3.2],[5.021,2.05],[5.038,3.9],[5.052,2.65],[5.069,3.5],[5.087,1.85],
    [5.103,3.65],[5.121,2.3],[5.138,2.95],[5.152,4.05],[5.169,2.15],[5.187,3.25],
    [5.203,2.25],[5.221,3.45],[5.238,1.7],[5.252,2.9],[5.269,3.85],[5.287,2.5],
    [5.303,3.15],[5.321,1.85],[5.338,3.6],[5.352,2.55],[5.369,3.3],[5.387,1.45],
    [5.403,2.8],[5.421,1.65],[5.438,3.5],[5.452,2.25],[5.469,3.1],[5.487,1.45],
    [5.503,3.25],[5.521,1.9],[5.538,2.55],[5.552,3.65],[5.569,1.75],[5.587,2.85],
    [5.603,1.85],[5.621,3.05],[5.638,1.3],[5.652,2.5],[5.669,3.45],[5.687,2.1],
    [5.703,2.75],[5.721,1.45],[5.738,3.2],[5.752,2.15],[5.769,2.9],[5.787,1.05],
    [5.803,2.35],[5.821,1.2],[5.838,3.05],[5.852,1.8],[5.869,2.65],[5.887,1.0],
    [5.903,2.75],[5.921,1.4],[5.938,2.05],[5.952,3.15],[5.969,1.25],[5.987,2.35],
    [6.003,1.3],[6.021,2.5],[6.038,0.75],[6.052,1.95],[6.069,2.9],[6.087,1.55],
    [6.103,2.15],[6.121,0.85],[6.138,2.6],[6.152,1.55],[6.169,2.3],[6.187,0.45],
    [6.203,1.75],[6.221,0.6],[6.238,2.45],[6.252,1.2],[6.269,2.05],[6.287,0.4],
    [6.303,2.15],[6.321,0.8],[6.338,1.45],[6.352,2.55],[6.369,0.65],[6.387,1.75],
    [6.403,0.7],[6.421,1.9],[6.438,0.15],[6.452,1.35],[6.469,2.3],[6.487,0.95],
    [6.503,1.5],[6.521,0.2],[6.538,1.95],[6.552,0.9],[6.569,1.65],[6.587,-0.2]
];
const dotsAB = [
    [6.62,0.0],[6.64,0.7],[6.66,2.05],[6.67,-0.5],[6.69,1.35],[6.71,0.2],[6.74,2.2],[6.75,-0.5],[6.78,0.75],[6.79,1.3],
    [6.82,-1.5],[6.84,0.0],[6.86,0.6],[6.87,-0.8],[6.89,0.95],[6.91,-0.55],[6.94,-1.7],[6.95,0.35],[6.98,-0.5],[6.99,-1.7],
    [7.02,0.2],[7.04,-1.75],[7.06,-0.85],[7.07,-2.65],[7.09,-0.45],[7.11,-1.65],[7.14,-1.15],[7.15,-2.75],[7.18,-1.45],[7.19,-3.05],
    [7.22,-0.55],[7.24,-2.5],[7.26,-1.4],[7.27,-3.85],[7.29,-2.3],[7.31,-1.3],[7.34,-3.45],
    [6.603,0.95],[6.621,-0.2],[6.638,1.65],[6.652,0.4],[6.669,1.25],[6.687,-0.4],
    [6.703,1.15],[6.721,-0.2],[6.738,0.45],[6.752,1.55],[6.769,-0.35],[6.787,0.75],
    [6.803,-0.55],[6.821,0.65],[6.838,-1.1],[6.852,0.1],[6.869,1.05],[6.887,-0.3],
    [6.903,0.0],[6.921,-1.3],[6.938,0.45],[6.952,-0.6],[6.969,0.15],[6.987,-1.7],
    [7.003,-0.85],[7.021,-2.0],[7.038,-0.15],[7.052,-1.4],[7.069,-0.55],[7.087,-2.2],
    [7.103,-0.8],[7.121,-2.15],[7.138,-1.5],[7.152,-0.4],[7.169,-2.3],[7.187,-1.2],
    [7.203,-2.6],[7.221,-1.4],[7.238,-3.15],[7.252,-1.95],[7.269,-1.0],[7.287,-2.35]
];
const edgeAAB = [
    [5.011,4.8],[5.034,1.25],[5.061,4.3],[5.079,0.85],[5.111,1.35],[5.134,4.95],[5.161,1.65],[5.179,4.45],
    [5.211,4.6],[5.234,1.05],[5.261,4.1],[5.279,0.65],[5.311,1.15],[5.334,4.75],[5.361,1.45],[5.379,4.25],
    [5.411,4.4],[5.434,0.85],[5.461,3.9],[5.479,0.45],[5.511,0.95],[5.534,4.55],[5.561,1.25],[5.579,4.05],
    [5.611,4.2],[5.634,0.65],[5.661,3.7],[5.679,0.25],[5.711,0.75],[5.734,4.35],[5.761,1.05],[5.779,3.85],
    [5.811,3.95],[5.834,0.4],[5.861,3.45],[5.879,0.0],[5.911,0.45],[5.934,4.05],[5.961,0.75],[5.979,3.55],
    [6.011,3.65],[6.034,0.1],[6.061,3.15],[6.079,-0.3],[6.111,0.15],[6.134,3.75],[6.161,0.45],[6.179,3.25],
    [6.211,3.35],[6.234,-0.2],[6.261,2.85],[6.279,-0.6],[6.311,-0.15],[6.334,3.45],[6.361,0.15],[6.379,2.95],
    [6.411,3.05],[6.434,-0.5],[6.461,2.55],[6.479,-0.9],[6.511,-0.5],[6.534,3.1],[6.561,-0.2],[6.579,2.6],
    [6.611,2.55],[6.634,-1.0],[6.661,2.05],[6.679,-1.4],[6.711,-1.15],[6.734,2.45],[6.761,-0.85],[6.779,1.95],
    [6.811,1.8],[6.834,-1.75],[6.861,1.3],[6.879,-2.15],[6.911,-2.0],[6.934,1.6],[6.961,-1.7],[6.979,1.1],
    [7.011,0.75],[7.034,-2.8],[7.061,0.25],[7.079,-3.2],[7.111,-3.1],[7.134,0.5],[7.161,-2.8],[7.179,0.0],
    [7.211,-0.25],[7.234,-3.8],[7.261,-0.75],[7.279,-4.2]
];
const dotsAC = [
    [7.35,-1.6],[7.36,-4.8],[7.37,-2.9],[7.38,-6.2],[7.39,-1.2],[7.40,-3.8],[7.41,-5.5],[7.42,-2.4],[7.43,-7.6],[7.44,-4.1],
    [7.45,-1.9],[7.46,-6.7],[7.47,-3.3],[7.48,-9.0],[7.49,-5.0],[7.50,-2.2],[7.51,-7.9],[7.52,-4.4],[7.53,-10.8],[7.54,-3.0],
    [7.55,-6.1],[7.56,-8.7],[7.57,-2.6],[7.58,-12.0],[7.59,-5.3],[7.60,-9.6],
    [7.302,-2.0],[7.312,-4.2],[7.322,-1.4],[7.332,-3.3],[7.342,-5.6],[7.352,-2.6],[7.362,-3.9],[7.372,-1.9],[7.382,-4.6],[7.392,-2.3],
    [7.402,-3.1],[7.412,-6.9],[7.422,-4.7],[7.432,-2.6],[7.442,-8.2],[7.452,-5.5],[7.462,-3.6],[7.472,-10.5],[7.482,-6.5],[7.492,-4.0],
    [7.502,-12.8],[7.512,-8.1],[7.522,-5.2],[7.532,-15.0],[7.542,-9.5],[7.552,-3.7],[7.562,-12.0],[7.572,-17.9],[7.582,-7.6],[7.592,-21.5],
    [7.452,-10.0],[7.466,-2.3],[7.478,-12.9],[7.49,-7.4],[7.504,-15.6],[7.516,-3.1],[7.528,-18.9],[7.54,-11.0],[7.552,-22.5],[7.564,-6.0],
    [7.576,-25.0],[7.588,-14.9],[7.598,-28.8]
];
// spike at 5pi/2
const dotsAD = [
    [7.605,-4.0],[7.61,-14.5],[7.615,-7.2],[7.62,-19.8],[7.625,-2.8],[7.63,-11.0],[7.635,-6.0],[7.64,-16.7],[7.645,-24.5],[7.65,-8.8],
    [7.655,-3.5],[7.66,-13.2],[7.665,-21.0],[7.67,-6.9],[7.675,-28.0],[7.68,-10.3],[7.685,-17.5],[7.69,-4.9],[7.695,-25.0],[7.70,-12.6],
    [7.705,-32.0],[7.71,-8.1],[7.715,-19.3],[7.72,-14.0],[7.725,-37.0],[7.73,-23.0],[7.735,-9.5],[7.74,-29.5],[7.745,-16.0],[7.75,-43],
    [7.755,-21.5],[7.76,-33],[7.765,-12.5],[7.77,-50],[7.775,-26],[7.78,-39],[7.785,-58],[7.79,-18],[7.795,-46],[7.80,-67],
    [7.805,-31],[7.81,-76],[7.815,-54],[7.82,-88],[7.825,-41],[7.83,-97],[7.835,-63],[7.84,-82],[7.845,-35],[7.85,-71],
    [7.855,-99],[7.86,-57],[7.865,-90],[7.87,-44],[7.875,-78],[7.88,-61],[7.885,-95],[7.89,-50],
    [7.602,-11.4],[7.612,-5.6],[7.622,-16.0],[7.632,-24.4],[7.642,-9.8],[7.652,-19.1],[7.662,-27.8],[7.672,-14.6],[7.682,-22.8],[7.692,-8.6],
    [7.702,-31.0],[7.712,-18.4],[7.722,-26.3],[7.732,-12.1],[7.742,-36.5],[7.752,-23.7],[7.762,-30.2],[7.772,-17.3],[7.782,-44.0],[7.792,-28.5],
    [7.802,-53],[7.812,-36],[7.822,-66],[7.832,-45],[7.842,-79],
    [7.608,-19.6],[7.618,-32.5],[7.628,-22.9],[7.638,-12.8],[7.648,-35.0],[7.658,-26.2],[7.668,-17.0],[7.678,-38.4],[7.688,-29.4],[7.698,-21.2],
    [7.708,-42.0],[7.718,-33.0],[7.728,-47.5],[7.738,-25.8],[7.748,-55.0],[7.758,-38.0],[7.768,-64],[7.778,-47],[7.788,-72],[7.798,-58],
    [7.808,-84],[7.818,-62],[7.828,-93]
];
const dotsAE = [
    [7.895,-38],[7.90,-22],[7.905,-47],[7.91,-13],[7.915,-30],[7.92,-6.5],[7.925,-19],[7.93,-35],[7.935,-9.4],[7.94,-26],
    [7.945,-15],[7.95,-4.2],[7.955,-21],[7.96,-11],[7.965,-28],[7.97,-7.5],[7.975,-17],[7.98,-3.3],[7.985,-13.5],[7.99,-24],
    [7.995,-8.8],[8.00,-16],[8.005,-5.1],[8.01,-11.8],[8.015,-20],[8.02,-3.9],[8.025,-9.6],[8.03,-14.4],[8.035,-6.2],[8.04,-18.3],
    [8.045,-2.9],[8.05,-10.7],[8.055,-7.0],[8.06,-13.0],[8.065,-4.6],[8.07,-8.4],[8.075,-15.5],[8.08,-3.6],[8.085,-9.9],[8.09,-6.0],
    [8.095,-12.1],[8.10,-4.9],
    [7.882,-70],[7.892,-29],[7.898,-56],[7.902,-33],[7.908,-17.8],[7.912,-40],[7.918,-25.2],[7.922,-10.9],[7.928,-30.6],[7.932,-16.0],
    [7.938,-21.9],[7.942,-7.4],[7.948,-26.8],[7.952,-13.3],[7.958,-18.7],[7.962,-5.4],[7.968,-22.4],[7.972,-11.6],[7.978,-15.8],[7.982,-8.5],
    [7.988,-19.2],[7.992,-4.6],[7.998,-12.4],[8.008,-7.7],[8.018,-14.9],[8.028,-5.0],[8.038,-10.1],[8.048,-16.8],[8.058,-3.9],[8.068,-12.2],
    [8.078,-7.0],[8.088,-4.1],[8.098,-9.2],
    [7.904,-58],[7.914,-48],[7.924,-41],[7.934,-28.7],[7.944,-33.5],[7.954,-24.9],[7.964,-31.0],[7.974,-20.6],[7.984,-26.4],[7.994,-16.7],
    [8.004,-22.8],[8.014,-9.6],[8.024,-19.0],[8.034,-13.1],[8.044,-7.3],[8.054,-17.7],[8.064,-9.8],[8.074,-2.6],[8.084,-13.8],[8.094,-5.3]
];
const dotsAF = [
    [8.105,-7.8],[8.115,-3.2],[8.125,-5.9],[8.135,-9.1],[8.145,-4.0],[8.155,-6.8],[8.165,-2.7],[8.175,-8.4],[8.185,-5.1],[8.195,-3.6],
    [8.205,-7.2],[8.215,-9.4],[8.225,-4.5],[8.235,-6.1],[8.245,-2.9],[8.255,-8.0],[8.265,-5.4],[8.275,-3.3],[8.285,-6.9],[8.295,-4.2],
    [8.305,-8.8],[8.315,-2.6],[8.325,-5.7],[8.335,-7.5],[8.345,-3.9],[8.355,-6.3],[8.365,-2.4],[8.375,-5.0],[8.385,-7.9],[8.395,-3.5],
    [8.405,-6.0],[8.415,-4.3],[8.11,-12.5],[8.13,-14.8],[8.15,-11.2],[8.17,-13.6],
    [8.11,-6.5],[8.12,-10.6],[8.14,-3.7],[8.16,-8.9],[8.18,-5.8],[8.2,-11.3],[8.22,-3.0],[8.24,-7.3],[8.26,-4.9],[8.28,-9.6],
    [8.3,-2.8],[8.32,-6.4],[8.34,-4.4],[8.36,-8.1],[8.38,-3.2],[8.4,-5.5],
    [8.104,-10.4],[8.118,-15.6],[8.132,-7.9],[8.146,-12.0],[8.16,-4.8],[8.174,-10.1],[8.188,-7.2],[8.202,-13.3],[8.216,-5.3],[8.23,-9.7],
    [8.244,-6.2],[8.258,-11.4],[8.272,-3.9],[8.286,-8.2],[8.3,-5.6],[8.314,-10.0],[8.328,-3.0],[8.342,-7.0],[8.356,-4.1],[8.37,-6.7]
];
// 8.42 to 10: band rising back
const dotsAG = [
    [8.44,-2.1],[8.46,-3.8],[8.48,-1.05],[8.49,-2.95],[8.51,-1.75],[8.53,-4.15],[8.56,-2.5],[8.57,-1.4],[8.60,-3.45],[8.61,-2.7],
    [8.64,-1.1],[8.66,-4.0],[8.68,-1.85],[8.69,-3.05],[8.71,-0.8],[8.73,-3.65],[8.76,-2.2],[8.77,-1.45],[8.80,-4.3],[8.81,-2.55],
    [8.84,-1.65],[8.86,-3.15],[8.88,-1.15],[8.89,-2.7],[8.91,-3.75],[8.93,-1.5],[8.96,-2.2],[8.97,-3.4],[9.00,-1.0],[9.01,-3.05],
    [9.04,-1.7],[9.06,-3.55],[9.08,-0.4],[9.09,-1.55],[9.11,-0.8],[9.13,-2.5],[9.16,-0.85],[9.17,-2.55],[9.20,0.25],[9.21,-1.65],
    [9.24,-0.4],[9.26,-2.8],[9.28,-1.15],[9.29,0.0],[9.31,-2.05],[9.33,-1.25],[9.36,0.3],[9.37,-2.6],[9.40,-0.45],[9.41,-1.6],
    [9.44,0.75],[9.46,-2.05],[9.48,-0.55],[9.49,0.2],[9.51,-1.35],[9.53,0.45],[9.56,1.3],[9.57,-0.2],[9.60,1.85],[9.61,0.35],
    [9.64,-0.65],[9.66,1.6],[9.68,0.9],[9.69,-0.3],[9.71,2.15],[9.73,0.1],[9.76,1.25],[9.77,-0.65],[9.80,1.9],[9.81,0.7],
    [9.84,1.45],[9.86,-0.25],[9.88,1.35],[9.89,-0.35],[9.91,2.45],[9.93,0.55],[9.96,1.8],[9.97,-0.6],[9.99,1.1],[10.0,2.2],
    [8.403,-2.35],[8.421,-3.5],[8.438,-1.65],[8.452,-2.9],[8.469,-2.05],[8.487,-3.7],
    [8.503,-1.8],[8.521,-3.15],[8.538,-2.5],[8.552,-1.4],[8.569,-3.3],[8.587,-2.2],
    [8.603,-3.05],[8.621,-1.85],[8.638,-3.6],[8.652,-2.4],[8.669,-1.45],[8.687,-2.8],
    [8.703,-2.0],[8.721,-3.3],[8.738,-1.55],[8.752,-2.6],[8.769,-1.85],[8.787,-3.7],
    [8.803,-2.15],[8.821,-3.3],[8.838,-1.45],[8.852,-2.7],[8.869,-1.85],[8.887,-3.5],
    [8.903,-1.55],[8.921,-2.9],[8.938,-2.25],[8.952,-1.15],[8.969,-3.05],[8.987,-1.95],
    [9.003,-2.7],[9.021,-1.5],[9.038,-3.25],[9.052,-2.05],[9.069,-1.1],[9.087,-2.45],
    [9.103,-0.9],[9.121,-2.2],[9.138,-0.45],[9.152,-1.5],[9.169,-0.75],[9.187,-2.6],
    [9.203,-1.05],[9.221,-2.2],[9.238,-0.35],[9.252,-1.6],[9.269,-0.75],[9.287,-2.4],
    [9.303,-0.35],[9.321,-1.7],[9.338,-1.05],[9.352,0.05],[9.369,-1.85],[9.387,-0.75],
    [9.403,-1.45],[9.421,-0.25],[9.438,-2.0],[9.452,-0.8],[9.469,0.15],[9.487,-1.2],
    [9.503,0.7],[9.521,-0.6],[9.538,1.15],[9.552,0.1],[9.569,0.85],[9.587,-1.0],
    [9.603,0.9],[9.621,-0.25],[9.638,1.6],[9.652,0.35],[9.669,1.2],[9.687,-0.45],
    [9.703,1.6],[9.721,0.25],[9.738,0.9],[9.752,2.0],[9.769,0.1],[9.787,1.2],
    [9.803,0.45],[9.821,1.65],[9.838,-0.1],[9.852,1.1],[9.869,2.05],[9.887,0.7],
    [9.903,1.55],[9.921,0.25],[9.938,2.0],[9.952,0.95],[9.969,1.7],[9.987,-0.15]
];
const edgeAG = [
    [8.411,-0.75],[8.434,-4.3],[8.461,-1.25],[8.479,-4.7],[8.511,-4.1],[8.534,-0.5],[8.561,-3.8],[8.579,-1.0],
    [8.611,-0.7],[8.634,-4.25],[8.661,-1.2],[8.679,-4.65],[8.711,-4.0],[8.734,-0.4],[8.761,-3.7],[8.779,-0.9],
    [8.811,-0.55],[8.834,-4.1],[8.861,-1.05],[8.879,-4.5],[8.911,-3.85],[8.934,-0.25],[8.961,-3.55],[8.979,-0.75],
    [9.011,-0.35],[9.034,-3.9],[9.061,-0.85],[9.079,-4.3],[9.111,-2.9],[9.134,0.7],[9.161,-2.6],[9.179,0.2],
    [9.211,0.55],[9.234,-3.0],[9.261,0.05],[9.279,-3.4],[9.311,-2.65],[9.334,0.95],[9.361,-2.35],[9.379,0.45],
    [9.411,0.9],[9.434,-2.65],[9.461,0.4],[9.479,-3.05],[9.511,-1.3],[9.534,2.3],[9.561,-1.0],[9.579,1.8],
    [9.611,2.5],[9.634,-1.05],[9.661,2.0],[9.679,-1.45],[9.711,-0.7],[9.734,2.9],[9.761,-0.4],[9.779,2.4],
    [9.811,2.8],[9.834,-0.75],[9.861,2.3],[9.879,-1.15],[9.911,-0.45],[9.934,3.15],[9.961,-0.15],[9.979,2.65]
];

const dotGroups = [dotsA, edgeA, dotsB, dotsC, dotsD, dotsE, dotsF, dotsG, dotsH, dotsI, edgeHI, dotsJ, dotsK, dotsL, dotsM,
    dotsN, edgeNO, dotsO, dotsP, dotsQ, dotsR, dotsS, edgeS, dotsT, dotsU, dotsV, dotsW, edgeW, dotsX, dotsY, dotsZ,
    dotsAA, dotsAB, edgeAAB, dotsAC, dotsAD, dotsAE, dotsAF, dotsAG, edgeAG];


class makeChart {

    constructor(opts) {
        this.element = opts.element;
        this.points = opts.points;
        this.curveX = opts.curveX;
        this.upperY = opts.upperY;
        this.lowerY = opts.lowerY;

        this._setDimensions();
        this._setScales();
        this.draw();
    }

    _setDimensions() {
        this.outerWidth = 2172;
        this.outerHeight = 1360;
        this.margin = {top: 14, right: 14, bottom: 49, left: 28};
        this.width = this.outerWidth - this.margin.left - this.margin.right;
        this.height = this.outerHeight - this.margin.top - this.margin.bottom;
    }

    _setScales() {
        this.xScale = d3.scaleLinear()
            .domain([-10, 10])
            .range([0, this.width]);

        this.yScale = d3.scaleLinear()
            .domain([-100, 100])
            .range([this.height, 0]);
    }

    draw() {
        this.element.innerHTML = "";

        this.svg = d3.select(this.element).append("svg")
            .attr("width", this.outerWidth)
            .attr("height", this.outerHeight);

        this.svg.append("rect")
            .attr("width", this.outerWidth)
            .attr("height", this.outerHeight)
            .attr("fill", "#000");

        this.plot = this.svg.append("g")
            .attr("transform", `translate(${this.margin.left},${this.margin.top})`);

        this.drawGrid();
        this.drawAxes();
        this.drawDots();
        this.drawCurves();
    }

    drawGrid() {
        // dashed grid from the axis generators, long ticks and no text
        this.plot.append("g")
            .attr("class", "grid")
            .attr("transform", `translate(0,${this.height})`)
            .call(d3.axisBottom(this.xScale).tickValues(xTicks).tickSize(-this.height).tickFormat(""));

        this.plot.append("g")
            .attr("class", "grid")
            .call(d3.axisLeft(this.yScale).tickValues(yTicks.filter(d => d !== 0)).tickSize(-this.width).tickFormat(""));
    }

    drawAxes() {
        // line at y = 0
        const zero = this.plot.append("g")
            .attr("transform", `translate(0,${this.yScale(0)})`)
            .call(d3.axisBottom(this.xScale).tickValues([]).tickSizeOuter(0));
        zero.select(".domain").attr("stroke", "#9a9a9a").attr("stroke-width", 2);

        // left axis with rotated labels
        const yAxis = this.plot.append("g")
            .attr("class", "axis y-axis")
            .call(d3.axisLeft(this.yScale).tickValues(yTicks).tickSize(0).tickSizeOuter(0).tickFormat(d => String(d)));
        yAxis.select(".domain").attr("stroke", "#9a9a9a").attr("stroke-width", 2);
        yAxis.selectAll("text")
            .attr("class", "tick-label")
            .attr("text-anchor", "start")
            .attr("dy", null)
            .attr("x", -13.5)
            .attr("y", -5)
            .attr("transform", "rotate(-90)");

        // bottom labels, no line
        const xAxis = this.plot.append("g")
            .attr("class", "axis x-axis")
            .attr("transform", `translate(0,${this.height})`)
            .call(d3.axisBottom(this.xScale).tickValues(xTicks).tickSize(0).tickFormat(d => String(d)));
        xAxis.select(".domain").remove();
        xAxis.selectAll("text")
            .attr("class", "tick-label")
            .attr("text-anchor", "start")
            .attr("dy", null)
            .attr("x", -20)
            .attr("y", 21);
    }

    drawDots() {
        this.plot.append("g")
            .attr("class", "dots")
            .selectAll(".dot")
            .data(this.points)
            .enter().append("circle")
            .attr("class", "dot")
            .attr("r", 2.8)
            .attr("cx", d => this.xScale(d[0]))
            .attr("cy", d => this.yScale(d[1]))
            .attr("fill", "#4682b4");
    }

    drawCurves() {
        const line = d3.line()
            .defined(d => d.y !== null)
            .x(d => this.xScale(d.x))
            .y(d => this.yScale(d.y));

        const upper = this.curveX.map((x, i) => ({x: x, y: this.upperY[i]}));
        const lower = this.curveX.map((x, i) => ({x: x, y: this.lowerY[i]}));

        this.plot.selectAll(".band-line")
            .data([upper, lower])
            .enter().append("path")
            .attr("class", "band-line")
            .attr("fill", "none")
            .attr("stroke", "#7fff00")
            .attr("stroke-width", 2.2)
            .attr("stroke-linejoin", "round")
            .attr("d", line);
    }

}

new makeChart({
    element: document.getElementById("chart"),
    points: dotGroups.flat(),
    curveX: curveX,
    upperY: upperY,
    lowerY: lowerY
});

</script>
</body>
</html>
